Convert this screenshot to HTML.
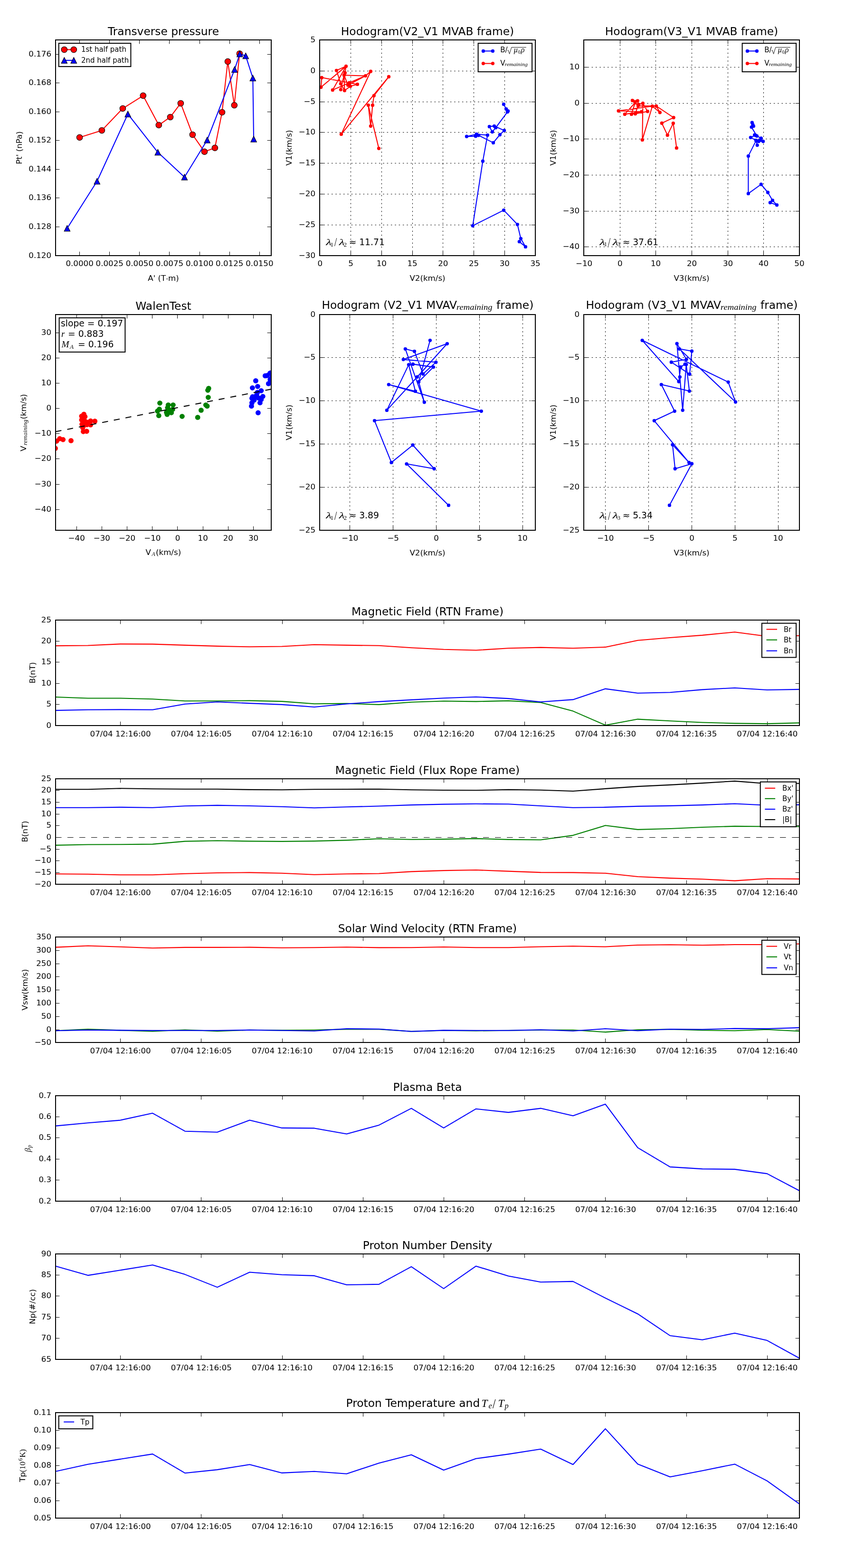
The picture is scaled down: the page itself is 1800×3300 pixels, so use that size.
<!DOCTYPE html>
<html><head><meta charset="utf-8"><title>Flux rope analysis</title><style>html,body{margin:0;padding:0;background:#fff;overflow:hidden;width:1800px;height:3300px;}svg{display:block;}</style></head><body>
<svg width="1800" height="3300" viewBox="0 0 1800 3300"><defs><clipPath id="a1"><rect x="117" y="84" width="454" height="454"/></clipPath><clipPath id="a2"><rect x="673" y="84" width="454" height="454"/></clipPath><clipPath id="a3"><rect x="1229" y="84" width="454" height="454"/></clipPath><clipPath id="b1"><rect x="117" y="662" width="454" height="454"/></clipPath><clipPath id="b2"><rect x="673" y="662" width="454" height="454"/></clipPath><clipPath id="b3"><rect x="1229" y="662" width="454" height="454"/></clipPath><clipPath id="t0"><rect x="117" y="1305" width="1566" height="222"/></clipPath><clipPath id="t1"><rect x="117" y="1639" width="1566" height="222"/></clipPath><clipPath id="t2"><rect x="117" y="1972" width="1566" height="222"/></clipPath><clipPath id="t3"><rect x="117" y="2306" width="1566" height="222"/></clipPath><clipPath id="t4"><rect x="117" y="2639" width="1566" height="222"/></clipPath><clipPath id="t5"><rect x="117" y="2973" width="1566" height="222"/></clipPath></defs><rect width="1800" height="3300" fill="#fff"/><line x1="167.5" y1="538" x2="167.5" y2="529.67" stroke="#000" stroke-width="1.04"/>
<line x1="167.5" y1="84" x2="167.5" y2="92.33" stroke="#000" stroke-width="1.04"/>
<text x="167.6" y="559.8" font-size="16.67" font-family="'DejaVu Sans', 'Liberation Sans', sans-serif" text-anchor="middle">0.0000</text>
<line x1="230.5" y1="538" x2="230.5" y2="529.67" stroke="#000" stroke-width="1.04"/>
<line x1="230.5" y1="84" x2="230.5" y2="92.33" stroke="#000" stroke-width="1.04"/>
<text x="230.73" y="559.8" font-size="16.67" font-family="'DejaVu Sans', 'Liberation Sans', sans-serif" text-anchor="middle">0.0025</text>
<line x1="293.5" y1="538" x2="293.5" y2="529.67" stroke="#000" stroke-width="1.04"/>
<line x1="293.5" y1="84" x2="293.5" y2="92.33" stroke="#000" stroke-width="1.04"/>
<text x="293.86" y="559.8" font-size="16.67" font-family="'DejaVu Sans', 'Liberation Sans', sans-serif" text-anchor="middle">0.0050</text>
<line x1="356.5" y1="538" x2="356.5" y2="529.67" stroke="#000" stroke-width="1.04"/>
<line x1="356.5" y1="84" x2="356.5" y2="92.33" stroke="#000" stroke-width="1.04"/>
<text x="356.99" y="559.8" font-size="16.67" font-family="'DejaVu Sans', 'Liberation Sans', sans-serif" text-anchor="middle">0.0075</text>
<line x1="420.5" y1="538" x2="420.5" y2="529.67" stroke="#000" stroke-width="1.04"/>
<line x1="420.5" y1="84" x2="420.5" y2="92.33" stroke="#000" stroke-width="1.04"/>
<text x="420.12" y="559.8" font-size="16.67" font-family="'DejaVu Sans', 'Liberation Sans', sans-serif" text-anchor="middle">0.0100</text>
<line x1="483.5" y1="538" x2="483.5" y2="529.67" stroke="#000" stroke-width="1.04"/>
<line x1="483.5" y1="84" x2="483.5" y2="92.33" stroke="#000" stroke-width="1.04"/>
<text x="483.25" y="559.8" font-size="16.67" font-family="'DejaVu Sans', 'Liberation Sans', sans-serif" text-anchor="middle">0.0125</text>
<line x1="546.5" y1="538" x2="546.5" y2="529.67" stroke="#000" stroke-width="1.04"/>
<line x1="546.5" y1="84" x2="546.5" y2="92.33" stroke="#000" stroke-width="1.04"/>
<text x="546.38" y="559.8" font-size="16.67" font-family="'DejaVu Sans', 'Liberation Sans', sans-serif" text-anchor="middle">0.0150</text>
<line x1="117" y1="538.5" x2="125.33" y2="538.5" stroke="#000" stroke-width="1.04"/>
<line x1="571" y1="538.5" x2="562.67" y2="538.5" stroke="#000" stroke-width="1.04"/>
<text x="108" y="542.5" font-size="16.67" font-family="'DejaVu Sans', 'Liberation Sans', sans-serif" text-anchor="end">0.120</text>
<line x1="117" y1="477.5" x2="125.33" y2="477.5" stroke="#000" stroke-width="1.04"/>
<line x1="571" y1="477.5" x2="562.67" y2="477.5" stroke="#000" stroke-width="1.04"/>
<text x="108" y="481.97" font-size="16.67" font-family="'DejaVu Sans', 'Liberation Sans', sans-serif" text-anchor="end">0.128</text>
<line x1="117" y1="416.5" x2="125.33" y2="416.5" stroke="#000" stroke-width="1.04"/>
<line x1="571" y1="416.5" x2="562.67" y2="416.5" stroke="#000" stroke-width="1.04"/>
<text x="108" y="421.43" font-size="16.67" font-family="'DejaVu Sans', 'Liberation Sans', sans-serif" text-anchor="end">0.136</text>
<line x1="117" y1="356.5" x2="125.33" y2="356.5" stroke="#000" stroke-width="1.04"/>
<line x1="571" y1="356.5" x2="562.67" y2="356.5" stroke="#000" stroke-width="1.04"/>
<text x="108" y="360.9" font-size="16.67" font-family="'DejaVu Sans', 'Liberation Sans', sans-serif" text-anchor="end">0.144</text>
<line x1="117" y1="295.5" x2="125.33" y2="295.5" stroke="#000" stroke-width="1.04"/>
<line x1="571" y1="295.5" x2="562.67" y2="295.5" stroke="#000" stroke-width="1.04"/>
<text x="108" y="300.37" font-size="16.67" font-family="'DejaVu Sans', 'Liberation Sans', sans-serif" text-anchor="end">0.152</text>
<line x1="117" y1="235.5" x2="125.33" y2="235.5" stroke="#000" stroke-width="1.04"/>
<line x1="571" y1="235.5" x2="562.67" y2="235.5" stroke="#000" stroke-width="1.04"/>
<text x="108" y="239.83" font-size="16.67" font-family="'DejaVu Sans', 'Liberation Sans', sans-serif" text-anchor="end">0.160</text>
<line x1="117" y1="174.5" x2="125.33" y2="174.5" stroke="#000" stroke-width="1.04"/>
<line x1="571" y1="174.5" x2="562.67" y2="174.5" stroke="#000" stroke-width="1.04"/>
<text x="108" y="179.3" font-size="16.67" font-family="'DejaVu Sans', 'Liberation Sans', sans-serif" text-anchor="end">0.168</text>
<line x1="117" y1="114.5" x2="125.33" y2="114.5" stroke="#000" stroke-width="1.04"/>
<line x1="571" y1="114.5" x2="562.67" y2="114.5" stroke="#000" stroke-width="1.04"/>
<text x="108" y="118.77" font-size="16.67" font-family="'DejaVu Sans', 'Liberation Sans', sans-serif" text-anchor="end">0.176</text>
<polyline points="167.6,289.3 214.4,274.4 258.4,228.3 301.3,201.3 334.3,263.3 358.5,246.4 380.4,217.4 405.4,283.4 430.5,319.3 452.4,311.3 467.5,236.2 479.5,129.5 493.3,221.5 504.4,112.9" fill="none" stroke="#ff0000" stroke-width="2.08" stroke-linejoin="round" stroke-linecap="square" clip-path="url(#a1)"/>
<circle cx="167.6" cy="289.3" r="6.25" fill="#ff0000" stroke="#000" stroke-width="1.04"/>
<circle cx="214.4" cy="274.4" r="6.25" fill="#ff0000" stroke="#000" stroke-width="1.04"/>
<circle cx="258.4" cy="228.3" r="6.25" fill="#ff0000" stroke="#000" stroke-width="1.04"/>
<circle cx="301.3" cy="201.3" r="6.25" fill="#ff0000" stroke="#000" stroke-width="1.04"/>
<circle cx="334.3" cy="263.3" r="6.25" fill="#ff0000" stroke="#000" stroke-width="1.04"/>
<circle cx="358.5" cy="246.4" r="6.25" fill="#ff0000" stroke="#000" stroke-width="1.04"/>
<circle cx="380.4" cy="217.4" r="6.25" fill="#ff0000" stroke="#000" stroke-width="1.04"/>
<circle cx="405.4" cy="283.4" r="6.25" fill="#ff0000" stroke="#000" stroke-width="1.04"/>
<circle cx="430.5" cy="319.3" r="6.25" fill="#ff0000" stroke="#000" stroke-width="1.04"/>
<circle cx="452.4" cy="311.3" r="6.25" fill="#ff0000" stroke="#000" stroke-width="1.04"/>
<circle cx="467.5" cy="236.2" r="6.25" fill="#ff0000" stroke="#000" stroke-width="1.04"/>
<circle cx="479.5" cy="129.5" r="6.25" fill="#ff0000" stroke="#000" stroke-width="1.04"/>
<circle cx="493.3" cy="221.5" r="6.25" fill="#ff0000" stroke="#000" stroke-width="1.04"/>
<circle cx="504.4" cy="112.9" r="6.25" fill="#ff0000" stroke="#000" stroke-width="1.04"/>
<polyline points="141.4,480.6 204.3,381.5 269.2,240 332.3,320.6 388.4,372.7 436.2,294.7 493.9,146.2 504.8,113.5 517.3,117.6 532.3,164.3 534.1,292.7" fill="none" stroke="#0000ff" stroke-width="2.08" stroke-linejoin="round" stroke-linecap="square" clip-path="url(#a1)"/>
<polygon points="141.4,474.35 135.15,486.85 147.65,486.85" fill="#0000ff" stroke="#000" stroke-width="1.04" stroke-linejoin="miter"/>
<polygon points="204.3,375.25 198.05,387.75 210.55,387.75" fill="#0000ff" stroke="#000" stroke-width="1.04" stroke-linejoin="miter"/>
<polygon points="269.2,233.75 262.95,246.25 275.45,246.25" fill="#0000ff" stroke="#000" stroke-width="1.04" stroke-linejoin="miter"/>
<polygon points="332.3,314.35 326.05,326.85 338.55,326.85" fill="#0000ff" stroke="#000" stroke-width="1.04" stroke-linejoin="miter"/>
<polygon points="388.4,366.45 382.15,378.95 394.65,378.95" fill="#0000ff" stroke="#000" stroke-width="1.04" stroke-linejoin="miter"/>
<polygon points="436.2,288.45 429.95,300.95 442.45,300.95" fill="#0000ff" stroke="#000" stroke-width="1.04" stroke-linejoin="miter"/>
<polygon points="493.9,139.95 487.65,152.45 500.15,152.45" fill="#0000ff" stroke="#000" stroke-width="1.04" stroke-linejoin="miter"/>
<polygon points="504.8,107.25 498.55,119.75 511.05,119.75" fill="#0000ff" stroke="#000" stroke-width="1.04" stroke-linejoin="miter"/>
<polygon points="517.3,111.35 511.05,123.85 523.55,123.85" fill="#0000ff" stroke="#000" stroke-width="1.04" stroke-linejoin="miter"/>
<polygon points="532.3,158.05 526.05,170.55 538.55,170.55" fill="#0000ff" stroke="#000" stroke-width="1.04" stroke-linejoin="miter"/>
<polygon points="534.1,286.45 527.85,298.95 540.35,298.95" fill="#0000ff" stroke="#000" stroke-width="1.04" stroke-linejoin="miter"/>
<rect x="123.7" y="91.1" width="151.7" height="49" fill="#fff" stroke="#000" stroke-width="2"/>
<line x1="135.3" y1="104.4" x2="155.3" y2="104.4" stroke="#ff0000" stroke-width="2.08"/>
<circle cx="135.3" cy="104.4" r="6.25" fill="#ff0000" stroke="#000" stroke-width="1.04"/>
<circle cx="155.3" cy="104.4" r="6.25" fill="#ff0000" stroke="#000" stroke-width="1.04"/>
<line x1="135.3" y1="127" x2="155.3" y2="127" stroke="#0000ff" stroke-width="2.08"/>
<polygon points="135.3,120.75 129.05,133.25 141.55,133.25" fill="#0000ff" stroke="#000" stroke-width="1.04" stroke-linejoin="miter"/>
<polygon points="155.3,120.75 149.05,133.25 161.55,133.25" fill="#0000ff" stroke="#000" stroke-width="1.04" stroke-linejoin="miter"/>
<text x="170.9" y="108.7" font-size="15" font-family="'DejaVu Sans', 'Liberation Sans', sans-serif" text-anchor="start">1st half path</text>
<text x="170.9" y="131.9" font-size="15" font-family="'DejaVu Sans', 'Liberation Sans', sans-serif" text-anchor="start">2nd half path</text>
<rect x="117" y="84" width="454" height="454" fill="none" stroke="#000" stroke-width="2"/>
<text x="344" y="73.7" font-size="23.33" font-family="'DejaVu Sans', 'Liberation Sans', sans-serif" text-anchor="middle">Transverse pressure</text>
<text x="344" y="590.9" font-size="16.67" font-family="'DejaVu Sans', 'Liberation Sans', sans-serif" text-anchor="middle">A' (T<tspan dy="1.8" font-size="15">·</tspan><tspan dy="-1.8">m)</tspan></text>
<text x="45.8" y="311" font-size="16.67" font-family="'DejaVu Sans', 'Liberation Sans', sans-serif" text-anchor="middle" transform="rotate(-90 45.8 311)">Pt' (nPa)</text>
<line x1="673.5" y1="538" x2="673.5" y2="84" stroke="#000" stroke-width="1.04" stroke-dasharray="2.5 5.83"/>
<line x1="673.5" y1="538" x2="673.5" y2="529.67" stroke="#000" stroke-width="1.04"/>
<line x1="673.5" y1="84" x2="673.5" y2="92.33" stroke="#000" stroke-width="1.04"/>
<text x="673.86" y="559.8" font-size="16.67" font-family="'DejaVu Sans', 'Liberation Sans', sans-serif" text-anchor="middle">0</text>
<line x1="738.5" y1="538" x2="738.5" y2="84" stroke="#000" stroke-width="1.04" stroke-dasharray="2.5 5.83"/>
<line x1="738.5" y1="538" x2="738.5" y2="529.67" stroke="#000" stroke-width="1.04"/>
<line x1="738.5" y1="84" x2="738.5" y2="92.33" stroke="#000" stroke-width="1.04"/>
<text x="738.6" y="559.8" font-size="16.67" font-family="'DejaVu Sans', 'Liberation Sans', sans-serif" text-anchor="middle">5</text>
<line x1="803.5" y1="538" x2="803.5" y2="84" stroke="#000" stroke-width="1.04" stroke-dasharray="2.5 5.83"/>
<line x1="803.5" y1="538" x2="803.5" y2="529.67" stroke="#000" stroke-width="1.04"/>
<line x1="803.5" y1="84" x2="803.5" y2="92.33" stroke="#000" stroke-width="1.04"/>
<text x="803.34" y="559.8" font-size="16.67" font-family="'DejaVu Sans', 'Liberation Sans', sans-serif" text-anchor="middle">10</text>
<line x1="868.5" y1="538" x2="868.5" y2="84" stroke="#000" stroke-width="1.04" stroke-dasharray="2.5 5.83"/>
<line x1="868.5" y1="538" x2="868.5" y2="529.67" stroke="#000" stroke-width="1.04"/>
<line x1="868.5" y1="84" x2="868.5" y2="92.33" stroke="#000" stroke-width="1.04"/>
<text x="868.08" y="559.8" font-size="16.67" font-family="'DejaVu Sans', 'Liberation Sans', sans-serif" text-anchor="middle">15</text>
<line x1="932.5" y1="538" x2="932.5" y2="84" stroke="#000" stroke-width="1.04" stroke-dasharray="2.5 5.83"/>
<line x1="932.5" y1="538" x2="932.5" y2="529.67" stroke="#000" stroke-width="1.04"/>
<line x1="932.5" y1="84" x2="932.5" y2="92.33" stroke="#000" stroke-width="1.04"/>
<text x="932.82" y="559.8" font-size="16.67" font-family="'DejaVu Sans', 'Liberation Sans', sans-serif" text-anchor="middle">20</text>
<line x1="997.5" y1="538" x2="997.5" y2="84" stroke="#000" stroke-width="1.04" stroke-dasharray="2.5 5.83"/>
<line x1="997.5" y1="538" x2="997.5" y2="529.67" stroke="#000" stroke-width="1.04"/>
<line x1="997.5" y1="84" x2="997.5" y2="92.33" stroke="#000" stroke-width="1.04"/>
<text x="997.56" y="559.8" font-size="16.67" font-family="'DejaVu Sans', 'Liberation Sans', sans-serif" text-anchor="middle">25</text>
<line x1="1062.5" y1="538" x2="1062.5" y2="84" stroke="#000" stroke-width="1.04" stroke-dasharray="2.5 5.83"/>
<line x1="1062.5" y1="538" x2="1062.5" y2="529.67" stroke="#000" stroke-width="1.04"/>
<line x1="1062.5" y1="84" x2="1062.5" y2="92.33" stroke="#000" stroke-width="1.04"/>
<text x="1062.3" y="559.8" font-size="16.67" font-family="'DejaVu Sans', 'Liberation Sans', sans-serif" text-anchor="middle">30</text>
<line x1="1127.5" y1="538" x2="1127.5" y2="84" stroke="#000" stroke-width="1.04" stroke-dasharray="2.5 5.83"/>
<line x1="1127.5" y1="538" x2="1127.5" y2="529.67" stroke="#000" stroke-width="1.04"/>
<line x1="1127.5" y1="84" x2="1127.5" y2="92.33" stroke="#000" stroke-width="1.04"/>
<text x="1127.04" y="559.8" font-size="16.67" font-family="'DejaVu Sans', 'Liberation Sans', sans-serif" text-anchor="middle">35</text>
<line x1="673" y1="84.5" x2="1127" y2="84.5" stroke="#000" stroke-width="1.04" stroke-dasharray="2.5 5.83"/>
<line x1="673" y1="84.5" x2="681.33" y2="84.5" stroke="#000" stroke-width="1.04"/>
<line x1="1127" y1="84.5" x2="1118.67" y2="84.5" stroke="#000" stroke-width="1.04"/>
<text x="664" y="89" font-size="16.67" font-family="'DejaVu Sans', 'Liberation Sans', sans-serif" text-anchor="end">5</text>
<line x1="673" y1="149.5" x2="1127" y2="149.5" stroke="#000" stroke-width="1.04" stroke-dasharray="2.5 5.83"/>
<line x1="673" y1="149.5" x2="681.33" y2="149.5" stroke="#000" stroke-width="1.04"/>
<line x1="1127" y1="149.5" x2="1118.67" y2="149.5" stroke="#000" stroke-width="1.04"/>
<text x="664" y="153.8" font-size="16.67" font-family="'DejaVu Sans', 'Liberation Sans', sans-serif" text-anchor="end">0</text>
<line x1="673" y1="214.5" x2="1127" y2="214.5" stroke="#000" stroke-width="1.04" stroke-dasharray="2.5 5.83"/>
<line x1="673" y1="214.5" x2="681.33" y2="214.5" stroke="#000" stroke-width="1.04"/>
<line x1="1127" y1="214.5" x2="1118.67" y2="214.5" stroke="#000" stroke-width="1.04"/>
<text x="664" y="218.6" font-size="16.67" font-family="'DejaVu Sans', 'Liberation Sans', sans-serif" text-anchor="end">−5</text>
<line x1="673" y1="278.5" x2="1127" y2="278.5" stroke="#000" stroke-width="1.04" stroke-dasharray="2.5 5.83"/>
<line x1="673" y1="278.5" x2="681.33" y2="278.5" stroke="#000" stroke-width="1.04"/>
<line x1="1127" y1="278.5" x2="1118.67" y2="278.5" stroke="#000" stroke-width="1.04"/>
<text x="664" y="283.4" font-size="16.67" font-family="'DejaVu Sans', 'Liberation Sans', sans-serif" text-anchor="end">−10</text>
<line x1="673" y1="343.5" x2="1127" y2="343.5" stroke="#000" stroke-width="1.04" stroke-dasharray="2.5 5.83"/>
<line x1="673" y1="343.5" x2="681.33" y2="343.5" stroke="#000" stroke-width="1.04"/>
<line x1="1127" y1="343.5" x2="1118.67" y2="343.5" stroke="#000" stroke-width="1.04"/>
<text x="664" y="348.2" font-size="16.67" font-family="'DejaVu Sans', 'Liberation Sans', sans-serif" text-anchor="end">−15</text>
<line x1="673" y1="408.5" x2="1127" y2="408.5" stroke="#000" stroke-width="1.04" stroke-dasharray="2.5 5.83"/>
<line x1="673" y1="408.5" x2="681.33" y2="408.5" stroke="#000" stroke-width="1.04"/>
<line x1="1127" y1="408.5" x2="1118.67" y2="408.5" stroke="#000" stroke-width="1.04"/>
<text x="664" y="413" font-size="16.67" font-family="'DejaVu Sans', 'Liberation Sans', sans-serif" text-anchor="end">−20</text>
<line x1="673" y1="473.5" x2="1127" y2="473.5" stroke="#000" stroke-width="1.04" stroke-dasharray="2.5 5.83"/>
<line x1="673" y1="473.5" x2="681.33" y2="473.5" stroke="#000" stroke-width="1.04"/>
<line x1="1127" y1="473.5" x2="1118.67" y2="473.5" stroke="#000" stroke-width="1.04"/>
<text x="664" y="477.8" font-size="16.67" font-family="'DejaVu Sans', 'Liberation Sans', sans-serif" text-anchor="end">−25</text>
<line x1="673" y1="538.5" x2="1127" y2="538.5" stroke="#000" stroke-width="1.04" stroke-dasharray="2.5 5.83"/>
<line x1="673" y1="538.5" x2="681.33" y2="538.5" stroke="#000" stroke-width="1.04"/>
<line x1="1127" y1="538.5" x2="1118.67" y2="538.5" stroke="#000" stroke-width="1.04"/>
<text x="664" y="542.6" font-size="16.67" font-family="'DejaVu Sans', 'Liberation Sans', sans-serif" text-anchor="end">−30</text>
<path d="M1060.4 219.4L1065.7 229.4M1065.7 229.4L1069.6 233.7M1069.6 233.7L1068.3 235.6M1068.3 235.6L1043.7 268.7M1043.7 268.7L1036.4 277.6M1036.4 277.6L1030.3 266.4M1030.3 266.4L1040.5 265.3M1040.5 265.3L1061.6 274.6M1061.6 274.6L1052.4 283.5M1052.4 283.5L1038.5 300.4M1038.5 300.4L1007.5 284.8M1007.5 284.8L1001.4 286.7M1001.4 286.7L982.4 287.2M982.4 287.2L1003.2 282.4M1003.2 282.4L1026.4 284.4M1026.4 284.4L1016.4 339.2M1016.4 339.2L995.2 475.1M995.2 475.1L1060.5 442.4M1060.5 442.4L1089.3 472.3M1089.3 472.3L1096.4 502.1M1096.4 502.1L1106.4 519.4M1106.4 519.4L1093.3 508.6" fill="none" stroke="#0000ff" stroke-width="2.08" stroke-linecap="round" stroke-linejoin="round" clip-path="url(#a2)"/>
<circle cx="1060.4" cy="219.4" r="3.12" fill="#0000ff" stroke="#0000ff" stroke-width="1.04" clip-path="url(#a2)"/>
<circle cx="1065.7" cy="229.4" r="3.12" fill="#0000ff" stroke="#0000ff" stroke-width="1.04" clip-path="url(#a2)"/>
<circle cx="1069.6" cy="233.7" r="3.12" fill="#0000ff" stroke="#0000ff" stroke-width="1.04" clip-path="url(#a2)"/>
<circle cx="1068.3" cy="235.6" r="3.12" fill="#0000ff" stroke="#0000ff" stroke-width="1.04" clip-path="url(#a2)"/>
<circle cx="1043.7" cy="268.7" r="3.12" fill="#0000ff" stroke="#0000ff" stroke-width="1.04" clip-path="url(#a2)"/>
<circle cx="1036.4" cy="277.6" r="3.12" fill="#0000ff" stroke="#0000ff" stroke-width="1.04" clip-path="url(#a2)"/>
<circle cx="1030.3" cy="266.4" r="3.12" fill="#0000ff" stroke="#0000ff" stroke-width="1.04" clip-path="url(#a2)"/>
<circle cx="1040.5" cy="265.3" r="3.12" fill="#0000ff" stroke="#0000ff" stroke-width="1.04" clip-path="url(#a2)"/>
<circle cx="1061.6" cy="274.6" r="3.12" fill="#0000ff" stroke="#0000ff" stroke-width="1.04" clip-path="url(#a2)"/>
<circle cx="1052.4" cy="283.5" r="3.12" fill="#0000ff" stroke="#0000ff" stroke-width="1.04" clip-path="url(#a2)"/>
<circle cx="1038.5" cy="300.4" r="3.12" fill="#0000ff" stroke="#0000ff" stroke-width="1.04" clip-path="url(#a2)"/>
<circle cx="1007.5" cy="284.8" r="3.12" fill="#0000ff" stroke="#0000ff" stroke-width="1.04" clip-path="url(#a2)"/>
<circle cx="1001.4" cy="286.7" r="3.12" fill="#0000ff" stroke="#0000ff" stroke-width="1.04" clip-path="url(#a2)"/>
<circle cx="982.4" cy="287.2" r="3.12" fill="#0000ff" stroke="#0000ff" stroke-width="1.04" clip-path="url(#a2)"/>
<circle cx="1003.2" cy="282.4" r="3.12" fill="#0000ff" stroke="#0000ff" stroke-width="1.04" clip-path="url(#a2)"/>
<circle cx="1026.4" cy="284.4" r="3.12" fill="#0000ff" stroke="#0000ff" stroke-width="1.04" clip-path="url(#a2)"/>
<circle cx="1016.4" cy="339.2" r="3.12" fill="#0000ff" stroke="#0000ff" stroke-width="1.04" clip-path="url(#a2)"/>
<circle cx="995.2" cy="475.1" r="3.12" fill="#0000ff" stroke="#0000ff" stroke-width="1.04" clip-path="url(#a2)"/>
<circle cx="1060.5" cy="442.4" r="3.12" fill="#0000ff" stroke="#0000ff" stroke-width="1.04" clip-path="url(#a2)"/>
<circle cx="1089.3" cy="472.3" r="3.12" fill="#0000ff" stroke="#0000ff" stroke-width="1.04" clip-path="url(#a2)"/>
<circle cx="1096.4" cy="502.1" r="3.12" fill="#0000ff" stroke="#0000ff" stroke-width="1.04" clip-path="url(#a2)"/>
<circle cx="1106.4" cy="519.4" r="3.12" fill="#0000ff" stroke="#0000ff" stroke-width="1.04" clip-path="url(#a2)"/>
<circle cx="1093.3" cy="508.6" r="3.12" fill="#0000ff" stroke="#0000ff" stroke-width="1.04" clip-path="url(#a2)"/>
<path d="M675.8 183.5L677.4 163.3M675.8 183.5L728.5 139.4M677.4 163.3L735.3 174.2M735.3 174.2L752.4 177.4M708.4 148.3L728.5 139.4M708.4 148.3L717.4 176.3M728.5 139.4L700.3 189.4M728.5 139.4L726.4 153.4M726.4 153.4L724.3 158.2M724.3 158.2L769.5 159.6M724.3 158.2L717.4 188.6M724.3 158.2L725.4 190.5M724.3 158.2L732.6 179.2M700.3 189.4L735.3 174.2M717.4 176.3L725.4 190.5M725.4 190.5L737.6 181.6M737.6 181.6L752.4 177.4M735.3 174.2L769.5 159.6M732.6 179.2L769.5 159.6M769.5 159.6L780.4 150.2M780.4 150.2L718.4 282.4M718.4 282.4L818.5 161.5M818.5 161.5L787.3 201.3M787.3 201.3L784.4 221.4M784.4 221.4L780.4 265.3M775.3 221.3L780.4 265.3M775.3 221.3L797.5 312.3" fill="none" stroke="#ff0000" stroke-width="2.08" stroke-linecap="round" stroke-linejoin="round" clip-path="url(#a2)"/>
<circle cx="675.8" cy="183.5" r="3.12" fill="#ff0000" stroke="#ff0000" stroke-width="1.04" clip-path="url(#a2)"/>
<circle cx="677.4" cy="163.3" r="3.12" fill="#ff0000" stroke="#ff0000" stroke-width="1.04" clip-path="url(#a2)"/>
<circle cx="708.4" cy="148.3" r="3.12" fill="#ff0000" stroke="#ff0000" stroke-width="1.04" clip-path="url(#a2)"/>
<circle cx="728.5" cy="139.4" r="3.12" fill="#ff0000" stroke="#ff0000" stroke-width="1.04" clip-path="url(#a2)"/>
<circle cx="726.4" cy="153.4" r="3.12" fill="#ff0000" stroke="#ff0000" stroke-width="1.04" clip-path="url(#a2)"/>
<circle cx="724.3" cy="158.2" r="3.12" fill="#ff0000" stroke="#ff0000" stroke-width="1.04" clip-path="url(#a2)"/>
<circle cx="717.4" cy="176.3" r="3.12" fill="#ff0000" stroke="#ff0000" stroke-width="1.04" clip-path="url(#a2)"/>
<circle cx="700.3" cy="189.4" r="3.12" fill="#ff0000" stroke="#ff0000" stroke-width="1.04" clip-path="url(#a2)"/>
<circle cx="717.4" cy="188.6" r="3.12" fill="#ff0000" stroke="#ff0000" stroke-width="1.04" clip-path="url(#a2)"/>
<circle cx="725.4" cy="190.5" r="3.12" fill="#ff0000" stroke="#ff0000" stroke-width="1.04" clip-path="url(#a2)"/>
<circle cx="735.3" cy="174.2" r="3.12" fill="#ff0000" stroke="#ff0000" stroke-width="1.04" clip-path="url(#a2)"/>
<circle cx="732.6" cy="179.2" r="3.12" fill="#ff0000" stroke="#ff0000" stroke-width="1.04" clip-path="url(#a2)"/>
<circle cx="737.6" cy="181.6" r="3.12" fill="#ff0000" stroke="#ff0000" stroke-width="1.04" clip-path="url(#a2)"/>
<circle cx="752.4" cy="177.4" r="3.12" fill="#ff0000" stroke="#ff0000" stroke-width="1.04" clip-path="url(#a2)"/>
<circle cx="769.5" cy="159.6" r="3.12" fill="#ff0000" stroke="#ff0000" stroke-width="1.04" clip-path="url(#a2)"/>
<circle cx="780.4" cy="150.2" r="3.12" fill="#ff0000" stroke="#ff0000" stroke-width="1.04" clip-path="url(#a2)"/>
<circle cx="718.4" cy="282.4" r="3.12" fill="#ff0000" stroke="#ff0000" stroke-width="1.04" clip-path="url(#a2)"/>
<circle cx="818.5" cy="161.5" r="3.12" fill="#ff0000" stroke="#ff0000" stroke-width="1.04" clip-path="url(#a2)"/>
<circle cx="787.3" cy="201.3" r="3.12" fill="#ff0000" stroke="#ff0000" stroke-width="1.04" clip-path="url(#a2)"/>
<circle cx="784.4" cy="221.4" r="3.12" fill="#ff0000" stroke="#ff0000" stroke-width="1.04" clip-path="url(#a2)"/>
<circle cx="775.3" cy="221.3" r="3.12" fill="#ff0000" stroke="#ff0000" stroke-width="1.04" clip-path="url(#a2)"/>
<circle cx="780.4" cy="265.3" r="3.12" fill="#ff0000" stroke="#ff0000" stroke-width="1.04" clip-path="url(#a2)"/>
<circle cx="797.5" cy="312.3" r="3.12" fill="#ff0000" stroke="#ff0000" stroke-width="1.04" clip-path="url(#a2)"/>
<rect x="1006.6" y="91.1" width="113.5" height="60" fill="#fff" stroke="#000" stroke-width="2"/>
<line x1="1017.4" y1="107.4" x2="1037.4" y2="107.4" stroke="#0000ff" stroke-width="2.08"/>
<circle cx="1017.4" cy="107.4" r="3.12" fill="#0000ff" stroke="#0000ff" stroke-width="1.04"/>
<circle cx="1037.4" cy="107.4" r="3.12" fill="#0000ff" stroke="#0000ff" stroke-width="1.04"/>
<line x1="1017.4" y1="133.6" x2="1037.4" y2="133.6" stroke="#ff0000" stroke-width="2.08"/>
<circle cx="1017.4" cy="133.6" r="3.12" fill="#ff0000" stroke="#ff0000" stroke-width="1.04"/>
<circle cx="1037.4" cy="133.6" r="3.12" fill="#ff0000" stroke="#ff0000" stroke-width="1.04"/>
<text x="1053.2" y="110.3" font-size="15" font-family="'DejaVu Sans', 'Liberation Sans', sans-serif" text-anchor="start">B/</text>
<path d="M1068.3 106.5 L1069.8 105.5 L1072.6 113.5 L1076.9 99.6 L1107.8 99.6" fill="none" stroke="#000" stroke-width="0.9"/>
<text x="1081.8" y="110.3" font-size="16" font-family="'Liberation Serif', 'DejaVu Serif', serif" text-anchor="start" font-style="italic">μ</text>
<text x="1090.4" y="112.6" font-size="10.5" font-family="'Liberation Serif', 'DejaVu Serif', serif" text-anchor="start">0</text>
<text x="1096.8" y="110.3" font-size="16" font-family="'Liberation Serif', 'DejaVu Serif', serif" text-anchor="start" font-style="italic">ρ</text>
<text x="1053.2" y="137.5" font-size="15" font-family="'DejaVu Sans', 'Liberation Sans', sans-serif" text-anchor="start">V</text>
<text x="1062.8" y="139" font-size="10.5" font-family="'Liberation Serif', 'DejaVu Serif', serif" text-anchor="start" font-style="italic" textLength="48" lengthAdjust="spacingAndGlyphs">remaining</text>
<text x="686.2" y="516.1" font-size="18.75" font-family="'Liberation Serif', 'DejaVu Serif', serif" text-anchor="start" font-style="italic" textLength="11.6" lengthAdjust="spacingAndGlyphs">λ</text>
<text x="695.6" y="518.9" font-size="13.1" font-family="'Liberation Serif', 'DejaVu Serif', serif" text-anchor="start">1</text>
<text x="0" y="0" font-size="18.75" font-family="'Liberation Serif', 'DejaVu Serif', serif" transform="translate(704.1 518.4) scale(1 1.3)">/</text>
<text x="713.7" y="516.1" font-size="18.75" font-family="'Liberation Serif', 'DejaVu Serif', serif" text-anchor="start" font-style="italic" textLength="11.6" lengthAdjust="spacingAndGlyphs">λ</text>
<text x="723.5" y="518.9" font-size="13.1" font-family="'Liberation Serif', 'DejaVu Serif', serif" text-anchor="start">2</text>
<text x="734.7" y="516.1" font-size="18.75" font-family="'DejaVu Sans', 'Liberation Sans', sans-serif" text-anchor="start">≈</text>
<text x="756.2" y="516.1" font-size="18.75" font-family="'DejaVu Sans', 'Liberation Sans', sans-serif" text-anchor="start">11.71</text>
<rect x="673" y="84" width="454" height="454" fill="none" stroke="#000" stroke-width="2"/>
<text x="900" y="73.7" font-size="23.33" font-family="'DejaVu Sans', 'Liberation Sans', sans-serif" text-anchor="middle">Hodogram(V2_V1 MVAB frame)</text>
<text x="900" y="591" font-size="16.67" font-family="'DejaVu Sans', 'Liberation Sans', sans-serif" text-anchor="middle">V2(km/s)</text>
<text x="614" y="311" font-size="16.67" font-family="'DejaVu Sans', 'Liberation Sans', sans-serif" text-anchor="middle" transform="rotate(-90 614 311)">V1(km/s)</text>
<line x1="1229.5" y1="538" x2="1229.5" y2="84" stroke="#000" stroke-width="1.04" stroke-dasharray="2.5 5.83"/>
<line x1="1229.5" y1="538" x2="1229.5" y2="529.67" stroke="#000" stroke-width="1.04"/>
<line x1="1229.5" y1="84" x2="1229.5" y2="92.33" stroke="#000" stroke-width="1.04"/>
<text x="1229.5" y="559.8" font-size="16.67" font-family="'DejaVu Sans', 'Liberation Sans', sans-serif" text-anchor="middle">−10</text>
<line x1="1305.5" y1="538" x2="1305.5" y2="84" stroke="#000" stroke-width="1.04" stroke-dasharray="2.5 5.83"/>
<line x1="1305.5" y1="538" x2="1305.5" y2="529.67" stroke="#000" stroke-width="1.04"/>
<line x1="1305.5" y1="84" x2="1305.5" y2="92.33" stroke="#000" stroke-width="1.04"/>
<text x="1305.4" y="559.8" font-size="16.67" font-family="'DejaVu Sans', 'Liberation Sans', sans-serif" text-anchor="middle">0</text>
<line x1="1380.5" y1="538" x2="1380.5" y2="84" stroke="#000" stroke-width="1.04" stroke-dasharray="2.5 5.83"/>
<line x1="1380.5" y1="538" x2="1380.5" y2="529.67" stroke="#000" stroke-width="1.04"/>
<line x1="1380.5" y1="84" x2="1380.5" y2="92.33" stroke="#000" stroke-width="1.04"/>
<text x="1380.6" y="559.8" font-size="16.67" font-family="'DejaVu Sans', 'Liberation Sans', sans-serif" text-anchor="middle">10</text>
<line x1="1456.5" y1="538" x2="1456.5" y2="84" stroke="#000" stroke-width="1.04" stroke-dasharray="2.5 5.83"/>
<line x1="1456.5" y1="538" x2="1456.5" y2="529.67" stroke="#000" stroke-width="1.04"/>
<line x1="1456.5" y1="84" x2="1456.5" y2="92.33" stroke="#000" stroke-width="1.04"/>
<text x="1456.6" y="559.8" font-size="16.67" font-family="'DejaVu Sans', 'Liberation Sans', sans-serif" text-anchor="middle">20</text>
<line x1="1532.5" y1="538" x2="1532.5" y2="84" stroke="#000" stroke-width="1.04" stroke-dasharray="2.5 5.83"/>
<line x1="1532.5" y1="538" x2="1532.5" y2="529.67" stroke="#000" stroke-width="1.04"/>
<line x1="1532.5" y1="84" x2="1532.5" y2="92.33" stroke="#000" stroke-width="1.04"/>
<text x="1532.5" y="559.8" font-size="16.67" font-family="'DejaVu Sans', 'Liberation Sans', sans-serif" text-anchor="middle">30</text>
<line x1="1607.5" y1="538" x2="1607.5" y2="84" stroke="#000" stroke-width="1.04" stroke-dasharray="2.5 5.83"/>
<line x1="1607.5" y1="538" x2="1607.5" y2="529.67" stroke="#000" stroke-width="1.04"/>
<line x1="1607.5" y1="84" x2="1607.5" y2="92.33" stroke="#000" stroke-width="1.04"/>
<text x="1607.5" y="559.8" font-size="16.67" font-family="'DejaVu Sans', 'Liberation Sans', sans-serif" text-anchor="middle">40</text>
<line x1="1682.5" y1="538" x2="1682.5" y2="84" stroke="#000" stroke-width="1.04" stroke-dasharray="2.5 5.83"/>
<line x1="1682.5" y1="538" x2="1682.5" y2="529.67" stroke="#000" stroke-width="1.04"/>
<line x1="1682.5" y1="84" x2="1682.5" y2="92.33" stroke="#000" stroke-width="1.04"/>
<text x="1682.9" y="559.8" font-size="16.67" font-family="'DejaVu Sans', 'Liberation Sans', sans-serif" text-anchor="middle">50</text>
<line x1="1229" y1="141.5" x2="1683" y2="141.5" stroke="#000" stroke-width="1.04" stroke-dasharray="2.5 5.83"/>
<line x1="1229" y1="141.5" x2="1237.33" y2="141.5" stroke="#000" stroke-width="1.04"/>
<line x1="1683" y1="141.5" x2="1674.67" y2="141.5" stroke="#000" stroke-width="1.04"/>
<text x="1220" y="146.2" font-size="16.67" font-family="'DejaVu Sans', 'Liberation Sans', sans-serif" text-anchor="end">10</text>
<line x1="1229" y1="217.5" x2="1683" y2="217.5" stroke="#000" stroke-width="1.04" stroke-dasharray="2.5 5.83"/>
<line x1="1229" y1="217.5" x2="1237.33" y2="217.5" stroke="#000" stroke-width="1.04"/>
<line x1="1683" y1="217.5" x2="1674.67" y2="217.5" stroke="#000" stroke-width="1.04"/>
<text x="1220" y="221.8" font-size="16.67" font-family="'DejaVu Sans', 'Liberation Sans', sans-serif" text-anchor="end">0</text>
<line x1="1229" y1="292.5" x2="1683" y2="292.5" stroke="#000" stroke-width="1.04" stroke-dasharray="2.5 5.83"/>
<line x1="1229" y1="292.5" x2="1237.33" y2="292.5" stroke="#000" stroke-width="1.04"/>
<line x1="1683" y1="292.5" x2="1674.67" y2="292.5" stroke="#000" stroke-width="1.04"/>
<text x="1220" y="297.4" font-size="16.67" font-family="'DejaVu Sans', 'Liberation Sans', sans-serif" text-anchor="end">−10</text>
<line x1="1229" y1="368.5" x2="1683" y2="368.5" stroke="#000" stroke-width="1.04" stroke-dasharray="2.5 5.83"/>
<line x1="1229" y1="368.5" x2="1237.33" y2="368.5" stroke="#000" stroke-width="1.04"/>
<line x1="1683" y1="368.5" x2="1674.67" y2="368.5" stroke="#000" stroke-width="1.04"/>
<text x="1220" y="373" font-size="16.67" font-family="'DejaVu Sans', 'Liberation Sans', sans-serif" text-anchor="end">−20</text>
<line x1="1229" y1="444.5" x2="1683" y2="444.5" stroke="#000" stroke-width="1.04" stroke-dasharray="2.5 5.83"/>
<line x1="1229" y1="444.5" x2="1237.33" y2="444.5" stroke="#000" stroke-width="1.04"/>
<line x1="1683" y1="444.5" x2="1674.67" y2="444.5" stroke="#000" stroke-width="1.04"/>
<text x="1220" y="448.6" font-size="16.67" font-family="'DejaVu Sans', 'Liberation Sans', sans-serif" text-anchor="end">−30</text>
<line x1="1229" y1="519.5" x2="1683" y2="519.5" stroke="#000" stroke-width="1.04" stroke-dasharray="2.5 5.83"/>
<line x1="1229" y1="519.5" x2="1237.33" y2="519.5" stroke="#000" stroke-width="1.04"/>
<line x1="1683" y1="519.5" x2="1674.67" y2="519.5" stroke="#000" stroke-width="1.04"/>
<text x="1220" y="524.2" font-size="16.67" font-family="'DejaVu Sans', 'Liberation Sans', sans-serif" text-anchor="end">−40</text>
<path d="M1583.3 258L1584.9 262.5M1584.9 262.5L1586.4 265.6M1586.4 265.6L1582.1 267.6M1582.1 267.6L1593.4 286.2M1593.4 286.2L1602.3 290.9M1602.3 290.9L1588.7 283.9M1588.7 283.9L1590.5 284.7M1590.5 284.7L1580.3 289.3M1580.3 289.3L1591.5 295.4M1591.5 295.4L1594.2 305.6M1594.2 305.6L1592.5 296.1M1592.5 296.1L1597.3 297.5M1597.3 297.5L1606.6 297.5M1606.6 297.5L1600 294.7M1600 294.7L1591.8 295.9M1591.8 295.9L1575.4 328.4M1575.4 328.4L1575.4 407.4M1575.4 407.4L1602.3 388M1602.3 388L1616.5 405M1616.5 405L1626.4 421.7M1626.4 421.7L1635.5 431.4M1635.5 431.4L1621.4 426.4" fill="none" stroke="#0000ff" stroke-width="2.08" stroke-linecap="round" stroke-linejoin="round" clip-path="url(#a3)"/>
<circle cx="1583.3" cy="258" r="3.12" fill="#0000ff" stroke="#0000ff" stroke-width="1.04" clip-path="url(#a3)"/>
<circle cx="1584.9" cy="262.5" r="3.12" fill="#0000ff" stroke="#0000ff" stroke-width="1.04" clip-path="url(#a3)"/>
<circle cx="1586.4" cy="265.6" r="3.12" fill="#0000ff" stroke="#0000ff" stroke-width="1.04" clip-path="url(#a3)"/>
<circle cx="1582.1" cy="267.6" r="3.12" fill="#0000ff" stroke="#0000ff" stroke-width="1.04" clip-path="url(#a3)"/>
<circle cx="1593.4" cy="286.2" r="3.12" fill="#0000ff" stroke="#0000ff" stroke-width="1.04" clip-path="url(#a3)"/>
<circle cx="1602.3" cy="290.9" r="3.12" fill="#0000ff" stroke="#0000ff" stroke-width="1.04" clip-path="url(#a3)"/>
<circle cx="1588.7" cy="283.9" r="3.12" fill="#0000ff" stroke="#0000ff" stroke-width="1.04" clip-path="url(#a3)"/>
<circle cx="1590.5" cy="284.7" r="3.12" fill="#0000ff" stroke="#0000ff" stroke-width="1.04" clip-path="url(#a3)"/>
<circle cx="1580.3" cy="289.3" r="3.12" fill="#0000ff" stroke="#0000ff" stroke-width="1.04" clip-path="url(#a3)"/>
<circle cx="1591.5" cy="295.4" r="3.12" fill="#0000ff" stroke="#0000ff" stroke-width="1.04" clip-path="url(#a3)"/>
<circle cx="1594.2" cy="305.6" r="3.12" fill="#0000ff" stroke="#0000ff" stroke-width="1.04" clip-path="url(#a3)"/>
<circle cx="1592.5" cy="296.1" r="3.12" fill="#0000ff" stroke="#0000ff" stroke-width="1.04" clip-path="url(#a3)"/>
<circle cx="1597.3" cy="297.5" r="3.12" fill="#0000ff" stroke="#0000ff" stroke-width="1.04" clip-path="url(#a3)"/>
<circle cx="1606.6" cy="297.5" r="3.12" fill="#0000ff" stroke="#0000ff" stroke-width="1.04" clip-path="url(#a3)"/>
<circle cx="1600" cy="294.7" r="3.12" fill="#0000ff" stroke="#0000ff" stroke-width="1.04" clip-path="url(#a3)"/>
<circle cx="1591.8" cy="295.9" r="3.12" fill="#0000ff" stroke="#0000ff" stroke-width="1.04" clip-path="url(#a3)"/>
<circle cx="1575.4" cy="328.4" r="3.12" fill="#0000ff" stroke="#0000ff" stroke-width="1.04" clip-path="url(#a3)"/>
<circle cx="1575.4" cy="407.4" r="3.12" fill="#0000ff" stroke="#0000ff" stroke-width="1.04" clip-path="url(#a3)"/>
<circle cx="1602.3" cy="388" r="3.12" fill="#0000ff" stroke="#0000ff" stroke-width="1.04" clip-path="url(#a3)"/>
<circle cx="1616.5" cy="405" r="3.12" fill="#0000ff" stroke="#0000ff" stroke-width="1.04" clip-path="url(#a3)"/>
<circle cx="1626.4" cy="421.7" r="3.12" fill="#0000ff" stroke="#0000ff" stroke-width="1.04" clip-path="url(#a3)"/>
<circle cx="1635.5" cy="431.4" r="3.12" fill="#0000ff" stroke="#0000ff" stroke-width="1.04" clip-path="url(#a3)"/>
<circle cx="1621.4" cy="426.4" r="3.12" fill="#0000ff" stroke="#0000ff" stroke-width="1.04" clip-path="url(#a3)"/>
<path d="M1302.1 233.3L1373.3 223.5M1302.1 233.3L1350.5 235.2M1315.3 240.4L1337 216.2M1315.3 240.4L1350.5 235.2M1329.4 240.4L1337 216.2M1329.4 240.4L1350.5 235.2M1337.5 239.5L1344.1 219.9M1331.4 211.4L1337 216.2M1342.3 212.1L1344.1 219.9M1331.4 211.4L1342.3 212.1M1344.1 219.9L1353.4 217.4M1353.4 217.4L1363.3 234.5M1343.4 222.8L1381.5 223.1M1381.5 223.1L1389.3 236.7M1373.3 223.5L1389.3 236.7M1353.4 217.4L1352.3 294.4M1352.3 294.4L1373.3 223.5M1381.5 223.1L1418.1 247.5M1418.1 247.5L1393.3 259.2M1393.3 259.2L1405.2 284.4M1405.2 284.4L1417.3 259.4M1417.3 259.4L1424.4 311.4M1337.5 239.5L1363.3 234.5M1337 216.2L1343.4 222.8" fill="none" stroke="#ff0000" stroke-width="2.08" stroke-linecap="round" stroke-linejoin="round" clip-path="url(#a3)"/>
<circle cx="1302.1" cy="233.3" r="3.12" fill="#ff0000" stroke="#ff0000" stroke-width="1.04" clip-path="url(#a3)"/>
<circle cx="1315.3" cy="240.4" r="3.12" fill="#ff0000" stroke="#ff0000" stroke-width="1.04" clip-path="url(#a3)"/>
<circle cx="1329.4" cy="240.4" r="3.12" fill="#ff0000" stroke="#ff0000" stroke-width="1.04" clip-path="url(#a3)"/>
<circle cx="1337.5" cy="239.5" r="3.12" fill="#ff0000" stroke="#ff0000" stroke-width="1.04" clip-path="url(#a3)"/>
<circle cx="1350.5" cy="235.2" r="3.12" fill="#ff0000" stroke="#ff0000" stroke-width="1.04" clip-path="url(#a3)"/>
<circle cx="1331.4" cy="211.4" r="3.12" fill="#ff0000" stroke="#ff0000" stroke-width="1.04" clip-path="url(#a3)"/>
<circle cx="1342.3" cy="212.1" r="3.12" fill="#ff0000" stroke="#ff0000" stroke-width="1.04" clip-path="url(#a3)"/>
<circle cx="1337" cy="216.2" r="3.12" fill="#ff0000" stroke="#ff0000" stroke-width="1.04" clip-path="url(#a3)"/>
<circle cx="1344.1" cy="219.9" r="3.12" fill="#ff0000" stroke="#ff0000" stroke-width="1.04" clip-path="url(#a3)"/>
<circle cx="1343.4" cy="222.8" r="3.12" fill="#ff0000" stroke="#ff0000" stroke-width="1.04" clip-path="url(#a3)"/>
<circle cx="1353.4" cy="217.4" r="3.12" fill="#ff0000" stroke="#ff0000" stroke-width="1.04" clip-path="url(#a3)"/>
<circle cx="1363.3" cy="234.5" r="3.12" fill="#ff0000" stroke="#ff0000" stroke-width="1.04" clip-path="url(#a3)"/>
<circle cx="1373.3" cy="223.5" r="3.12" fill="#ff0000" stroke="#ff0000" stroke-width="1.04" clip-path="url(#a3)"/>
<circle cx="1381.5" cy="223.1" r="3.12" fill="#ff0000" stroke="#ff0000" stroke-width="1.04" clip-path="url(#a3)"/>
<circle cx="1389.3" cy="236.7" r="3.12" fill="#ff0000" stroke="#ff0000" stroke-width="1.04" clip-path="url(#a3)"/>
<circle cx="1418.1" cy="247.5" r="3.12" fill="#ff0000" stroke="#ff0000" stroke-width="1.04" clip-path="url(#a3)"/>
<circle cx="1393.3" cy="259.2" r="3.12" fill="#ff0000" stroke="#ff0000" stroke-width="1.04" clip-path="url(#a3)"/>
<circle cx="1405.2" cy="284.4" r="3.12" fill="#ff0000" stroke="#ff0000" stroke-width="1.04" clip-path="url(#a3)"/>
<circle cx="1417.3" cy="259.4" r="3.12" fill="#ff0000" stroke="#ff0000" stroke-width="1.04" clip-path="url(#a3)"/>
<circle cx="1424.4" cy="311.4" r="3.12" fill="#ff0000" stroke="#ff0000" stroke-width="1.04" clip-path="url(#a3)"/>
<circle cx="1352.3" cy="294.4" r="3.12" fill="#ff0000" stroke="#ff0000" stroke-width="1.04" clip-path="url(#a3)"/>
<rect x="1562.6" y="91.1" width="113.5" height="60" fill="#fff" stroke="#000" stroke-width="2"/>
<line x1="1573.4" y1="107.4" x2="1593.4" y2="107.4" stroke="#0000ff" stroke-width="2.08"/>
<circle cx="1573.4" cy="107.4" r="3.12" fill="#0000ff" stroke="#0000ff" stroke-width="1.04"/>
<circle cx="1593.4" cy="107.4" r="3.12" fill="#0000ff" stroke="#0000ff" stroke-width="1.04"/>
<line x1="1573.4" y1="133.6" x2="1593.4" y2="133.6" stroke="#ff0000" stroke-width="2.08"/>
<circle cx="1573.4" cy="133.6" r="3.12" fill="#ff0000" stroke="#ff0000" stroke-width="1.04"/>
<circle cx="1593.4" cy="133.6" r="3.12" fill="#ff0000" stroke="#ff0000" stroke-width="1.04"/>
<text x="1609.2" y="110.3" font-size="15" font-family="'DejaVu Sans', 'Liberation Sans', sans-serif" text-anchor="start">B/</text>
<path d="M1624.3 106.5 L1625.8 105.5 L1628.6 113.5 L1632.9 99.6 L1663.8 99.6" fill="none" stroke="#000" stroke-width="0.9"/>
<text x="1637.8" y="110.3" font-size="16" font-family="'Liberation Serif', 'DejaVu Serif', serif" text-anchor="start" font-style="italic">μ</text>
<text x="1646.4" y="112.6" font-size="10.5" font-family="'Liberation Serif', 'DejaVu Serif', serif" text-anchor="start">0</text>
<text x="1652.8" y="110.3" font-size="16" font-family="'Liberation Serif', 'DejaVu Serif', serif" text-anchor="start" font-style="italic">ρ</text>
<text x="1609.2" y="137.5" font-size="15" font-family="'DejaVu Sans', 'Liberation Sans', sans-serif" text-anchor="start">V</text>
<text x="1618.8" y="139" font-size="10.5" font-family="'Liberation Serif', 'DejaVu Serif', serif" text-anchor="start" font-style="italic" textLength="48" lengthAdjust="spacingAndGlyphs">remaining</text>
<text x="1262.2" y="515.6" font-size="18.75" font-family="'Liberation Serif', 'DejaVu Serif', serif" text-anchor="start" font-style="italic" textLength="11.6" lengthAdjust="spacingAndGlyphs">λ</text>
<text x="1271.6" y="518.4" font-size="13.1" font-family="'Liberation Serif', 'DejaVu Serif', serif" text-anchor="start">1</text>
<text x="0" y="0" font-size="18.75" font-family="'Liberation Serif', 'DejaVu Serif', serif" transform="translate(1280.1 517.9) scale(1 1.3)">/</text>
<text x="1289.7" y="515.6" font-size="18.75" font-family="'Liberation Serif', 'DejaVu Serif', serif" text-anchor="start" font-style="italic" textLength="11.6" lengthAdjust="spacingAndGlyphs">λ</text>
<text x="1299.5" y="518.4" font-size="13.1" font-family="'Liberation Serif', 'DejaVu Serif', serif" text-anchor="start">3</text>
<text x="1310.7" y="515.6" font-size="18.75" font-family="'DejaVu Sans', 'Liberation Sans', sans-serif" text-anchor="start">≈</text>
<text x="1332.2" y="515.6" font-size="18.75" font-family="'DejaVu Sans', 'Liberation Sans', sans-serif" text-anchor="start">37.61</text>
<rect x="1229" y="84" width="454" height="454" fill="none" stroke="#000" stroke-width="2"/>
<text x="1456" y="73.7" font-size="23.33" font-family="'DejaVu Sans', 'Liberation Sans', sans-serif" text-anchor="middle">Hodogram(V3_V1 MVAB frame)</text>
<text x="1456" y="591" font-size="16.67" font-family="'DejaVu Sans', 'Liberation Sans', sans-serif" text-anchor="middle">V3(km/s)</text>
<text x="1170" y="311" font-size="16.67" font-family="'DejaVu Sans', 'Liberation Sans', sans-serif" text-anchor="middle" transform="rotate(-90 1170 311)">V1(km/s)</text>
<line x1="161.5" y1="1116" x2="161.5" y2="1107.67" stroke="#000" stroke-width="1.04"/>
<line x1="161.5" y1="662" x2="161.5" y2="670.33" stroke="#000" stroke-width="1.04"/>
<text x="161.2" y="1137.8" font-size="16.67" font-family="'DejaVu Sans', 'Liberation Sans', sans-serif" text-anchor="middle">−40</text>
<line x1="214.5" y1="1116" x2="214.5" y2="1107.67" stroke="#000" stroke-width="1.04"/>
<line x1="214.5" y1="662" x2="214.5" y2="670.33" stroke="#000" stroke-width="1.04"/>
<text x="214.39" y="1137.8" font-size="16.67" font-family="'DejaVu Sans', 'Liberation Sans', sans-serif" text-anchor="middle">−30</text>
<line x1="267.5" y1="1116" x2="267.5" y2="1107.67" stroke="#000" stroke-width="1.04"/>
<line x1="267.5" y1="662" x2="267.5" y2="670.33" stroke="#000" stroke-width="1.04"/>
<text x="267.58" y="1137.8" font-size="16.67" font-family="'DejaVu Sans', 'Liberation Sans', sans-serif" text-anchor="middle">−20</text>
<line x1="320.5" y1="1116" x2="320.5" y2="1107.67" stroke="#000" stroke-width="1.04"/>
<line x1="320.5" y1="662" x2="320.5" y2="670.33" stroke="#000" stroke-width="1.04"/>
<text x="320.77" y="1137.8" font-size="16.67" font-family="'DejaVu Sans', 'Liberation Sans', sans-serif" text-anchor="middle">−10</text>
<line x1="373.5" y1="1116" x2="373.5" y2="1107.67" stroke="#000" stroke-width="1.04"/>
<line x1="373.5" y1="662" x2="373.5" y2="670.33" stroke="#000" stroke-width="1.04"/>
<text x="373.96" y="1137.8" font-size="16.67" font-family="'DejaVu Sans', 'Liberation Sans', sans-serif" text-anchor="middle">0</text>
<line x1="427.5" y1="1116" x2="427.5" y2="1107.67" stroke="#000" stroke-width="1.04"/>
<line x1="427.5" y1="662" x2="427.5" y2="670.33" stroke="#000" stroke-width="1.04"/>
<text x="427.15" y="1137.8" font-size="16.67" font-family="'DejaVu Sans', 'Liberation Sans', sans-serif" text-anchor="middle">10</text>
<line x1="480.5" y1="1116" x2="480.5" y2="1107.67" stroke="#000" stroke-width="1.04"/>
<line x1="480.5" y1="662" x2="480.5" y2="670.33" stroke="#000" stroke-width="1.04"/>
<text x="480.34" y="1137.8" font-size="16.67" font-family="'DejaVu Sans', 'Liberation Sans', sans-serif" text-anchor="middle">20</text>
<line x1="533.5" y1="1116" x2="533.5" y2="1107.67" stroke="#000" stroke-width="1.04"/>
<line x1="533.5" y1="662" x2="533.5" y2="670.33" stroke="#000" stroke-width="1.04"/>
<text x="533.53" y="1137.8" font-size="16.67" font-family="'DejaVu Sans', 'Liberation Sans', sans-serif" text-anchor="middle">30</text>
<line x1="117" y1="700.5" x2="125.33" y2="700.5" stroke="#000" stroke-width="1.04"/>
<line x1="571" y1="700.5" x2="562.67" y2="700.5" stroke="#000" stroke-width="1.04"/>
<text x="108" y="704.53" font-size="16.67" font-family="'DejaVu Sans', 'Liberation Sans', sans-serif" text-anchor="end">30</text>
<line x1="117" y1="753.5" x2="125.33" y2="753.5" stroke="#000" stroke-width="1.04"/>
<line x1="571" y1="753.5" x2="562.67" y2="753.5" stroke="#000" stroke-width="1.04"/>
<text x="108" y="757.72" font-size="16.67" font-family="'DejaVu Sans', 'Liberation Sans', sans-serif" text-anchor="end">20</text>
<line x1="117" y1="806.5" x2="125.33" y2="806.5" stroke="#000" stroke-width="1.04"/>
<line x1="571" y1="806.5" x2="562.67" y2="806.5" stroke="#000" stroke-width="1.04"/>
<text x="108" y="810.91" font-size="16.67" font-family="'DejaVu Sans', 'Liberation Sans', sans-serif" text-anchor="end">10</text>
<line x1="117" y1="859.5" x2="125.33" y2="859.5" stroke="#000" stroke-width="1.04"/>
<line x1="571" y1="859.5" x2="562.67" y2="859.5" stroke="#000" stroke-width="1.04"/>
<text x="108" y="864.1" font-size="16.67" font-family="'DejaVu Sans', 'Liberation Sans', sans-serif" text-anchor="end">0</text>
<line x1="117" y1="912.5" x2="125.33" y2="912.5" stroke="#000" stroke-width="1.04"/>
<line x1="571" y1="912.5" x2="562.67" y2="912.5" stroke="#000" stroke-width="1.04"/>
<text x="108" y="917.29" font-size="16.67" font-family="'DejaVu Sans', 'Liberation Sans', sans-serif" text-anchor="end">−10</text>
<line x1="117" y1="965.5" x2="125.33" y2="965.5" stroke="#000" stroke-width="1.04"/>
<line x1="571" y1="965.5" x2="562.67" y2="965.5" stroke="#000" stroke-width="1.04"/>
<text x="108" y="970.48" font-size="16.67" font-family="'DejaVu Sans', 'Liberation Sans', sans-serif" text-anchor="end">−20</text>
<line x1="117" y1="1019.5" x2="125.33" y2="1019.5" stroke="#000" stroke-width="1.04"/>
<line x1="571" y1="1019.5" x2="562.67" y2="1019.5" stroke="#000" stroke-width="1.04"/>
<text x="108" y="1023.67" font-size="16.67" font-family="'DejaVu Sans', 'Liberation Sans', sans-serif" text-anchor="end">−30</text>
<line x1="117" y1="1072.5" x2="125.33" y2="1072.5" stroke="#000" stroke-width="1.04"/>
<line x1="571" y1="1072.5" x2="562.67" y2="1072.5" stroke="#000" stroke-width="1.04"/>
<text x="108" y="1076.86" font-size="16.67" font-family="'DejaVu Sans', 'Liberation Sans', sans-serif" text-anchor="end">−40</text>
<circle cx="149.5" cy="927.4" r="5.4" fill="#ff0000" stroke="none" stroke-width="0" clip-path="url(#b1)"/>
<circle cx="132.7" cy="925.2" r="5.4" fill="#ff0000" stroke="none" stroke-width="0" clip-path="url(#b1)"/>
<circle cx="125.7" cy="923.2" r="5.4" fill="#ff0000" stroke="none" stroke-width="0" clip-path="url(#b1)"/>
<circle cx="119.4" cy="928.3" r="5.4" fill="#ff0000" stroke="none" stroke-width="0" clip-path="url(#b1)"/>
<circle cx="116.5" cy="943.6" r="5.4" fill="#ff0000" stroke="none" stroke-width="0" clip-path="url(#b1)"/>
<circle cx="176.6" cy="871.9" r="5.4" fill="#ff0000" stroke="none" stroke-width="0" clip-path="url(#b1)"/>
<circle cx="178.9" cy="877" r="5.4" fill="#ff0000" stroke="none" stroke-width="0" clip-path="url(#b1)"/>
<circle cx="171.9" cy="875.8" r="5.4" fill="#ff0000" stroke="none" stroke-width="0" clip-path="url(#b1)"/>
<circle cx="171.9" cy="883.7" r="5.4" fill="#ff0000" stroke="none" stroke-width="0" clip-path="url(#b1)"/>
<circle cx="177.3" cy="884.5" r="5.4" fill="#ff0000" stroke="none" stroke-width="0" clip-path="url(#b1)"/>
<circle cx="190.7" cy="886" r="5.4" fill="#ff0000" stroke="none" stroke-width="0" clip-path="url(#b1)"/>
<circle cx="199.7" cy="886.4" r="5.4" fill="#ff0000" stroke="none" stroke-width="0" clip-path="url(#b1)"/>
<circle cx="172.6" cy="892.7" r="5.4" fill="#ff0000" stroke="none" stroke-width="0" clip-path="url(#b1)"/>
<circle cx="182.8" cy="893.9" r="5.4" fill="#ff0000" stroke="none" stroke-width="0" clip-path="url(#b1)"/>
<circle cx="190.7" cy="894.2" r="5.4" fill="#ff0000" stroke="none" stroke-width="0" clip-path="url(#b1)"/>
<circle cx="174.2" cy="900.1" r="5.4" fill="#ff0000" stroke="none" stroke-width="0" clip-path="url(#b1)"/>
<circle cx="175.4" cy="908.3" r="5.4" fill="#ff0000" stroke="none" stroke-width="0" clip-path="url(#b1)"/>
<circle cx="182.4" cy="907.6" r="5.4" fill="#ff0000" stroke="none" stroke-width="0" clip-path="url(#b1)"/>
<circle cx="180.5" cy="887.6" r="5.4" fill="#ff0000" stroke="none" stroke-width="0" clip-path="url(#b1)"/>
<circle cx="176" cy="889" r="5.4" fill="#ff0000" stroke="none" stroke-width="0" clip-path="url(#b1)"/>
<circle cx="186" cy="889" r="5.4" fill="#ff0000" stroke="none" stroke-width="0" clip-path="url(#b1)"/>
<circle cx="176" cy="896" r="5.4" fill="#ff0000" stroke="none" stroke-width="0" clip-path="url(#b1)"/>
<circle cx="336.5" cy="848.3" r="5.4" fill="#008000" stroke="none" stroke-width="0" clip-path="url(#b1)"/>
<circle cx="335.5" cy="861.2" r="5.4" fill="#008000" stroke="none" stroke-width="0" clip-path="url(#b1)"/>
<circle cx="331.6" cy="865.2" r="5.4" fill="#008000" stroke="none" stroke-width="0" clip-path="url(#b1)"/>
<circle cx="334.3" cy="874.7" r="5.4" fill="#008000" stroke="none" stroke-width="0" clip-path="url(#b1)"/>
<circle cx="354.2" cy="852.3" r="5.4" fill="#008000" stroke="none" stroke-width="0" clip-path="url(#b1)"/>
<circle cx="364.4" cy="852.3" r="5.4" fill="#008000" stroke="none" stroke-width="0" clip-path="url(#b1)"/>
<circle cx="352.8" cy="858.3" r="5.4" fill="#008000" stroke="none" stroke-width="0" clip-path="url(#b1)"/>
<circle cx="363.5" cy="861.5" r="5.4" fill="#008000" stroke="none" stroke-width="0" clip-path="url(#b1)"/>
<circle cx="350.5" cy="868" r="5.4" fill="#008000" stroke="none" stroke-width="0" clip-path="url(#b1)"/>
<circle cx="351.9" cy="872.2" r="5.4" fill="#008000" stroke="none" stroke-width="0" clip-path="url(#b1)"/>
<circle cx="360.7" cy="868.5" r="5.4" fill="#008000" stroke="none" stroke-width="0" clip-path="url(#b1)"/>
<circle cx="357" cy="862.9" r="5.4" fill="#008000" stroke="none" stroke-width="0" clip-path="url(#b1)"/>
<circle cx="383.4" cy="876.3" r="5.4" fill="#008000" stroke="none" stroke-width="0" clip-path="url(#b1)"/>
<circle cx="416.2" cy="878.4" r="5.4" fill="#008000" stroke="none" stroke-width="0" clip-path="url(#b1)"/>
<circle cx="423.4" cy="863.4" r="5.4" fill="#008000" stroke="none" stroke-width="0" clip-path="url(#b1)"/>
<circle cx="433.3" cy="852.3" r="5.4" fill="#008000" stroke="none" stroke-width="0" clip-path="url(#b1)"/>
<circle cx="436.1" cy="854.6" r="5.4" fill="#008000" stroke="none" stroke-width="0" clip-path="url(#b1)"/>
<circle cx="438.4" cy="836.3" r="5.4" fill="#008000" stroke="none" stroke-width="0" clip-path="url(#b1)"/>
<circle cx="437.5" cy="821.3" r="5.4" fill="#008000" stroke="none" stroke-width="0" clip-path="url(#b1)"/>
<circle cx="439.3" cy="817.4" r="5.4" fill="#008000" stroke="none" stroke-width="0" clip-path="url(#b1)"/>
<circle cx="538.4" cy="801.4" r="5.4" fill="#0000ff" stroke="none" stroke-width="0" clip-path="url(#b1)"/>
<circle cx="542.4" cy="813.3" r="5.4" fill="#0000ff" stroke="none" stroke-width="0" clip-path="url(#b1)"/>
<circle cx="531.4" cy="816.3" r="5.4" fill="#0000ff" stroke="none" stroke-width="0" clip-path="url(#b1)"/>
<circle cx="549.9" cy="822.3" r="5.4" fill="#0000ff" stroke="none" stroke-width="0" clip-path="url(#b1)"/>
<circle cx="541.9" cy="825.8" r="5.4" fill="#0000ff" stroke="none" stroke-width="0" clip-path="url(#b1)"/>
<circle cx="531.9" cy="834.8" r="5.4" fill="#0000ff" stroke="none" stroke-width="0" clip-path="url(#b1)"/>
<circle cx="530.4" cy="838.3" r="5.4" fill="#0000ff" stroke="none" stroke-width="0" clip-path="url(#b1)"/>
<circle cx="537.9" cy="836.8" r="5.4" fill="#0000ff" stroke="none" stroke-width="0" clip-path="url(#b1)"/>
<circle cx="540.4" cy="831.3" r="5.4" fill="#0000ff" stroke="none" stroke-width="0" clip-path="url(#b1)"/>
<circle cx="553.3" cy="834.3" r="5.4" fill="#0000ff" stroke="none" stroke-width="0" clip-path="url(#b1)"/>
<circle cx="549.9" cy="840.8" r="5.4" fill="#0000ff" stroke="none" stroke-width="0" clip-path="url(#b1)"/>
<circle cx="547.4" cy="847.7" r="5.4" fill="#0000ff" stroke="none" stroke-width="0" clip-path="url(#b1)"/>
<circle cx="530.4" cy="847.7" r="5.4" fill="#0000ff" stroke="none" stroke-width="0" clip-path="url(#b1)"/>
<circle cx="529.4" cy="854.7" r="5.4" fill="#0000ff" stroke="none" stroke-width="0" clip-path="url(#b1)"/>
<circle cx="543.4" cy="868.7" r="5.4" fill="#0000ff" stroke="none" stroke-width="0" clip-path="url(#b1)"/>
<circle cx="558.3" cy="790.9" r="5.4" fill="#0000ff" stroke="none" stroke-width="0" clip-path="url(#b1)"/>
<circle cx="562.3" cy="790.4" r="5.4" fill="#0000ff" stroke="none" stroke-width="0" clip-path="url(#b1)"/>
<circle cx="569.8" cy="785" r="5.4" fill="#0000ff" stroke="none" stroke-width="0" clip-path="url(#b1)"/>
<circle cx="568.8" cy="798.9" r="5.4" fill="#0000ff" stroke="none" stroke-width="0" clip-path="url(#b1)"/>
<circle cx="565.3" cy="807.4" r="5.4" fill="#0000ff" stroke="none" stroke-width="0" clip-path="url(#b1)"/>
<circle cx="568.3" cy="785.5" r="5.4" fill="#0000ff" stroke="none" stroke-width="0" clip-path="url(#b1)"/>
<circle cx="572" cy="795" r="5.4" fill="#0000ff" stroke="none" stroke-width="0" clip-path="url(#b1)"/>
<circle cx="535" cy="842" r="5.4" fill="#0000ff" stroke="none" stroke-width="0" clip-path="url(#b1)"/>
<circle cx="545" cy="838" r="5.4" fill="#0000ff" stroke="none" stroke-width="0" clip-path="url(#b1)"/>
<line x1="117" y1="908.5" x2="571" y2="819.1" stroke="#000" stroke-width="2.08" stroke-dasharray="12.5 12.5" clip-path="url(#b1)"/>
<rect x="124.6" y="668.9" width="138.8" height="72" fill="#fff" stroke="#000" stroke-width="2"/>
<text x="128" y="686.9" font-size="18.75" font-family="'DejaVu Sans', 'Liberation Sans', sans-serif" text-anchor="start">slope = 0.197</text>
<text x="129" y="709.3" font-size="18.75" font-family="'Liberation Serif', 'DejaVu Serif', serif" text-anchor="start" font-style="italic">r</text>
<text x="143" y="709.3" font-size="18.75" font-family="'DejaVu Sans', 'Liberation Sans', sans-serif" text-anchor="start">= 0.883</text>
<text x="129.5" y="730.5" font-size="18.75" font-family="'Liberation Serif', 'DejaVu Serif', serif" text-anchor="start" font-style="italic" textLength="16" lengthAdjust="spacingAndGlyphs">M</text>
<text x="147" y="733.6" font-size="13.1" font-family="'Liberation Serif', 'DejaVu Serif', serif" text-anchor="start" font-style="italic">A</text>
<text x="164" y="730.5" font-size="18.75" font-family="'DejaVu Sans', 'Liberation Sans', sans-serif" text-anchor="start">= 0.196</text>
<rect x="117" y="662" width="454" height="454" fill="none" stroke="#000" stroke-width="2"/>
<text x="344" y="651.7" font-size="23.33" font-family="'DejaVu Sans', 'Liberation Sans', sans-serif" text-anchor="middle">WalenTest</text>
<text x="306.5" y="1167.8" font-size="16.67" font-family="'DejaVu Sans', 'Liberation Sans', sans-serif" text-anchor="start">V</text>
<text x="319.5" y="1169.6" font-size="11.67" font-family="'Liberation Serif', 'DejaVu Serif', serif" text-anchor="start" font-style="italic">A</text>
<text x="328" y="1167.8" font-size="16.67" font-family="'DejaVu Sans', 'Liberation Sans', sans-serif" text-anchor="start">(km/s)</text>
<g transform="translate(54.9 949.7) rotate(-90)"><text x="0" y="0" font-size="16.67" font-family="'DejaVu Sans', 'Liberation Sans', sans-serif">V</text><text x="12.8" y="1.8" font-size="11.67" font-family="'Liberation Serif', 'DejaVu Serif', serif" font-style="italic" textLength="53.8" lengthAdjust="spacingAndGlyphs">remaining</text><text x="67.4" y="0" font-size="16.67" font-family="'DejaVu Sans', 'Liberation Sans', sans-serif">(km/s)</text></g>
<line x1="736.5" y1="1116" x2="736.5" y2="662" stroke="#000" stroke-width="1.04" stroke-dasharray="2.5 5.83"/>
<line x1="736.5" y1="1116" x2="736.5" y2="1107.67" stroke="#000" stroke-width="1.04"/>
<line x1="736.5" y1="662" x2="736.5" y2="670.33" stroke="#000" stroke-width="1.04"/>
<text x="736.9" y="1137.8" font-size="16.67" font-family="'DejaVu Sans', 'Liberation Sans', sans-serif" text-anchor="middle">−10</text>
<line x1="827.5" y1="1116" x2="827.5" y2="662" stroke="#000" stroke-width="1.04" stroke-dasharray="2.5 5.83"/>
<line x1="827.5" y1="1116" x2="827.5" y2="1107.67" stroke="#000" stroke-width="1.04"/>
<line x1="827.5" y1="662" x2="827.5" y2="670.33" stroke="#000" stroke-width="1.04"/>
<text x="827.7" y="1137.8" font-size="16.67" font-family="'DejaVu Sans', 'Liberation Sans', sans-serif" text-anchor="middle">−5</text>
<line x1="918.5" y1="1116" x2="918.5" y2="662" stroke="#000" stroke-width="1.04" stroke-dasharray="2.5 5.83"/>
<line x1="918.5" y1="1116" x2="918.5" y2="1107.67" stroke="#000" stroke-width="1.04"/>
<line x1="918.5" y1="662" x2="918.5" y2="670.33" stroke="#000" stroke-width="1.04"/>
<text x="918.5" y="1137.8" font-size="16.67" font-family="'DejaVu Sans', 'Liberation Sans', sans-serif" text-anchor="middle">0</text>
<line x1="1009.5" y1="1116" x2="1009.5" y2="662" stroke="#000" stroke-width="1.04" stroke-dasharray="2.5 5.83"/>
<line x1="1009.5" y1="1116" x2="1009.5" y2="1107.67" stroke="#000" stroke-width="1.04"/>
<line x1="1009.5" y1="662" x2="1009.5" y2="670.33" stroke="#000" stroke-width="1.04"/>
<text x="1009.3" y="1137.8" font-size="16.67" font-family="'DejaVu Sans', 'Liberation Sans', sans-serif" text-anchor="middle">5</text>
<line x1="1100.5" y1="1116" x2="1100.5" y2="662" stroke="#000" stroke-width="1.04" stroke-dasharray="2.5 5.83"/>
<line x1="1100.5" y1="1116" x2="1100.5" y2="1107.67" stroke="#000" stroke-width="1.04"/>
<line x1="1100.5" y1="662" x2="1100.5" y2="670.33" stroke="#000" stroke-width="1.04"/>
<text x="1100.1" y="1137.8" font-size="16.67" font-family="'DejaVu Sans', 'Liberation Sans', sans-serif" text-anchor="middle">10</text>
<line x1="673" y1="662.5" x2="1127" y2="662.5" stroke="#000" stroke-width="1.04" stroke-dasharray="2.5 5.83"/>
<line x1="673" y1="662.5" x2="681.33" y2="662.5" stroke="#000" stroke-width="1.04"/>
<line x1="1127" y1="662.5" x2="1118.67" y2="662.5" stroke="#000" stroke-width="1.04"/>
<text x="664" y="666.5" font-size="16.67" font-family="'DejaVu Sans', 'Liberation Sans', sans-serif" text-anchor="end">0</text>
<line x1="673" y1="752.5" x2="1127" y2="752.5" stroke="#000" stroke-width="1.04" stroke-dasharray="2.5 5.83"/>
<line x1="673" y1="752.5" x2="681.33" y2="752.5" stroke="#000" stroke-width="1.04"/>
<line x1="1127" y1="752.5" x2="1118.67" y2="752.5" stroke="#000" stroke-width="1.04"/>
<text x="664" y="757.3" font-size="16.67" font-family="'DejaVu Sans', 'Liberation Sans', sans-serif" text-anchor="end">−5</text>
<line x1="673" y1="843.5" x2="1127" y2="843.5" stroke="#000" stroke-width="1.04" stroke-dasharray="2.5 5.83"/>
<line x1="673" y1="843.5" x2="681.33" y2="843.5" stroke="#000" stroke-width="1.04"/>
<line x1="1127" y1="843.5" x2="1118.67" y2="843.5" stroke="#000" stroke-width="1.04"/>
<text x="664" y="848.1" font-size="16.67" font-family="'DejaVu Sans', 'Liberation Sans', sans-serif" text-anchor="end">−10</text>
<line x1="673" y1="934.5" x2="1127" y2="934.5" stroke="#000" stroke-width="1.04" stroke-dasharray="2.5 5.83"/>
<line x1="673" y1="934.5" x2="681.33" y2="934.5" stroke="#000" stroke-width="1.04"/>
<line x1="1127" y1="934.5" x2="1118.67" y2="934.5" stroke="#000" stroke-width="1.04"/>
<text x="664" y="938.9" font-size="16.67" font-family="'DejaVu Sans', 'Liberation Sans', sans-serif" text-anchor="end">−15</text>
<line x1="673" y1="1025.5" x2="1127" y2="1025.5" stroke="#000" stroke-width="1.04" stroke-dasharray="2.5 5.83"/>
<line x1="673" y1="1025.5" x2="681.33" y2="1025.5" stroke="#000" stroke-width="1.04"/>
<line x1="1127" y1="1025.5" x2="1118.67" y2="1025.5" stroke="#000" stroke-width="1.04"/>
<text x="664" y="1029.7" font-size="16.67" font-family="'DejaVu Sans', 'Liberation Sans', sans-serif" text-anchor="end">−20</text>
<line x1="673" y1="1116.5" x2="1127" y2="1116.5" stroke="#000" stroke-width="1.04" stroke-dasharray="2.5 5.83"/>
<line x1="673" y1="1116.5" x2="681.33" y2="1116.5" stroke="#000" stroke-width="1.04"/>
<line x1="1127" y1="1116.5" x2="1118.67" y2="1116.5" stroke="#000" stroke-width="1.04"/>
<text x="664" y="1120.5" font-size="16.67" font-family="'DejaVu Sans', 'Liberation Sans', sans-serif" text-anchor="end">−25</text>
<path d="M869.4 766.4L912.4 772.6M912.4 772.6L881.5 803.6M881.5 803.6L905.4 716.3M905.4 716.3L881.5 803.6M881.5 803.6L893.3 846.5M893.3 846.5L853.3 734.3M853.3 734.3L872.5 739.4M872.5 739.4L890.7 787.1M890.7 787.1L917.8 762.3M917.8 762.3L849.2 756.6M849.2 756.6L941.4 723.3M941.4 723.3L878.4 793.2M878.4 793.2L814.4 863.4M814.4 863.4L860.4 767.6M860.4 767.6L874.5 823.4M874.5 823.4L818.3 809.3M818.3 809.3L1013.3 865.3M1013.3 865.3L788.5 885.3M788.5 885.3L824 973.4M824 973.4L869.1 936.7M869.1 936.7L914 986.5M914 986.5L856 976.3M856 976.3L944.4 1063.4" fill="none" stroke="#0000ff" stroke-width="2.08" stroke-linecap="round" stroke-linejoin="round" clip-path="url(#b2)"/>
<circle cx="869.4" cy="766.4" r="3.12" fill="#0000ff" stroke="#0000ff" stroke-width="1.04" clip-path="url(#b2)"/>
<circle cx="912.4" cy="772.6" r="3.12" fill="#0000ff" stroke="#0000ff" stroke-width="1.04" clip-path="url(#b2)"/>
<circle cx="881.5" cy="803.6" r="3.12" fill="#0000ff" stroke="#0000ff" stroke-width="1.04" clip-path="url(#b2)"/>
<circle cx="905.4" cy="716.3" r="3.12" fill="#0000ff" stroke="#0000ff" stroke-width="1.04" clip-path="url(#b2)"/>
<circle cx="881.5" cy="803.6" r="3.12" fill="#0000ff" stroke="#0000ff" stroke-width="1.04" clip-path="url(#b2)"/>
<circle cx="893.3" cy="846.5" r="3.12" fill="#0000ff" stroke="#0000ff" stroke-width="1.04" clip-path="url(#b2)"/>
<circle cx="853.3" cy="734.3" r="3.12" fill="#0000ff" stroke="#0000ff" stroke-width="1.04" clip-path="url(#b2)"/>
<circle cx="872.5" cy="739.4" r="3.12" fill="#0000ff" stroke="#0000ff" stroke-width="1.04" clip-path="url(#b2)"/>
<circle cx="890.7" cy="787.1" r="3.12" fill="#0000ff" stroke="#0000ff" stroke-width="1.04" clip-path="url(#b2)"/>
<circle cx="917.8" cy="762.3" r="3.12" fill="#0000ff" stroke="#0000ff" stroke-width="1.04" clip-path="url(#b2)"/>
<circle cx="849.2" cy="756.6" r="3.12" fill="#0000ff" stroke="#0000ff" stroke-width="1.04" clip-path="url(#b2)"/>
<circle cx="941.4" cy="723.3" r="3.12" fill="#0000ff" stroke="#0000ff" stroke-width="1.04" clip-path="url(#b2)"/>
<circle cx="878.4" cy="793.2" r="3.12" fill="#0000ff" stroke="#0000ff" stroke-width="1.04" clip-path="url(#b2)"/>
<circle cx="814.4" cy="863.4" r="3.12" fill="#0000ff" stroke="#0000ff" stroke-width="1.04" clip-path="url(#b2)"/>
<circle cx="860.4" cy="767.6" r="3.12" fill="#0000ff" stroke="#0000ff" stroke-width="1.04" clip-path="url(#b2)"/>
<circle cx="874.5" cy="823.4" r="3.12" fill="#0000ff" stroke="#0000ff" stroke-width="1.04" clip-path="url(#b2)"/>
<circle cx="818.3" cy="809.3" r="3.12" fill="#0000ff" stroke="#0000ff" stroke-width="1.04" clip-path="url(#b2)"/>
<circle cx="1013.3" cy="865.3" r="3.12" fill="#0000ff" stroke="#0000ff" stroke-width="1.04" clip-path="url(#b2)"/>
<circle cx="788.5" cy="885.3" r="3.12" fill="#0000ff" stroke="#0000ff" stroke-width="1.04" clip-path="url(#b2)"/>
<circle cx="824" cy="973.4" r="3.12" fill="#0000ff" stroke="#0000ff" stroke-width="1.04" clip-path="url(#b2)"/>
<circle cx="869.1" cy="936.7" r="3.12" fill="#0000ff" stroke="#0000ff" stroke-width="1.04" clip-path="url(#b2)"/>
<circle cx="914" cy="986.5" r="3.12" fill="#0000ff" stroke="#0000ff" stroke-width="1.04" clip-path="url(#b2)"/>
<circle cx="856" cy="976.3" r="3.12" fill="#0000ff" stroke="#0000ff" stroke-width="1.04" clip-path="url(#b2)"/>
<circle cx="944.4" cy="1063.4" r="3.12" fill="#0000ff" stroke="#0000ff" stroke-width="1.04" clip-path="url(#b2)"/>
<text x="686.2" y="1091.4" font-size="18.75" font-family="'Liberation Serif', 'DejaVu Serif', serif" text-anchor="start" font-style="italic" textLength="11.6" lengthAdjust="spacingAndGlyphs">λ</text>
<text x="695.6" y="1094.2" font-size="13.1" font-family="'Liberation Serif', 'DejaVu Serif', serif" text-anchor="start">1</text>
<text x="0" y="0" font-size="18.75" font-family="'Liberation Serif', 'DejaVu Serif', serif" transform="translate(704.1 1093.7) scale(1 1.3)">/</text>
<text x="713.7" y="1091.4" font-size="18.75" font-family="'Liberation Serif', 'DejaVu Serif', serif" text-anchor="start" font-style="italic" textLength="11.6" lengthAdjust="spacingAndGlyphs">λ</text>
<text x="723.5" y="1094.2" font-size="13.1" font-family="'Liberation Serif', 'DejaVu Serif', serif" text-anchor="start">2</text>
<text x="734.7" y="1091.4" font-size="18.75" font-family="'DejaVu Sans', 'Liberation Sans', sans-serif" text-anchor="start">≈</text>
<text x="756.2" y="1091.4" font-size="18.75" font-family="'DejaVu Sans', 'Liberation Sans', sans-serif" text-anchor="start">3.89</text>
<rect x="673" y="662" width="454" height="454" fill="none" stroke="#000" stroke-width="2"/>
<text x="677.5" y="649.8" font-size="23.33" font-family="'DejaVu Sans', 'Liberation Sans', sans-serif" text-anchor="start">Hodogram (V2_V1 MVAV</text>
<text x="961" y="652.4" font-size="16.33" font-family="'Liberation Serif', 'DejaVu Serif', serif" text-anchor="start" font-style="italic" textLength="75.6" lengthAdjust="spacingAndGlyphs">remaining</text>
<text x="1045" y="649.8" font-size="23.33" font-family="'DejaVu Sans', 'Liberation Sans', sans-serif" text-anchor="start">frame)</text>
<text x="900" y="1169" font-size="16.67" font-family="'DejaVu Sans', 'Liberation Sans', sans-serif" text-anchor="middle">V2(km/s)</text>
<text x="614" y="889" font-size="16.67" font-family="'DejaVu Sans', 'Liberation Sans', sans-serif" text-anchor="middle" transform="rotate(-90 614 889)">V1(km/s)</text>
<line x1="1274.5" y1="1116" x2="1274.5" y2="662" stroke="#000" stroke-width="1.04" stroke-dasharray="2.5 5.83"/>
<line x1="1274.5" y1="1116" x2="1274.5" y2="1107.67" stroke="#000" stroke-width="1.04"/>
<line x1="1274.5" y1="662" x2="1274.5" y2="670.33" stroke="#000" stroke-width="1.04"/>
<text x="1274.9" y="1137.8" font-size="16.67" font-family="'DejaVu Sans', 'Liberation Sans', sans-serif" text-anchor="middle">−10</text>
<line x1="1365.5" y1="1116" x2="1365.5" y2="662" stroke="#000" stroke-width="1.04" stroke-dasharray="2.5 5.83"/>
<line x1="1365.5" y1="1116" x2="1365.5" y2="1107.67" stroke="#000" stroke-width="1.04"/>
<line x1="1365.5" y1="662" x2="1365.5" y2="670.33" stroke="#000" stroke-width="1.04"/>
<text x="1365.7" y="1137.8" font-size="16.67" font-family="'DejaVu Sans', 'Liberation Sans', sans-serif" text-anchor="middle">−5</text>
<line x1="1456.5" y1="1116" x2="1456.5" y2="662" stroke="#000" stroke-width="1.04" stroke-dasharray="2.5 5.83"/>
<line x1="1456.5" y1="1116" x2="1456.5" y2="1107.67" stroke="#000" stroke-width="1.04"/>
<line x1="1456.5" y1="662" x2="1456.5" y2="670.33" stroke="#000" stroke-width="1.04"/>
<text x="1456.5" y="1137.8" font-size="16.67" font-family="'DejaVu Sans', 'Liberation Sans', sans-serif" text-anchor="middle">0</text>
<line x1="1547.5" y1="1116" x2="1547.5" y2="662" stroke="#000" stroke-width="1.04" stroke-dasharray="2.5 5.83"/>
<line x1="1547.5" y1="1116" x2="1547.5" y2="1107.67" stroke="#000" stroke-width="1.04"/>
<line x1="1547.5" y1="662" x2="1547.5" y2="670.33" stroke="#000" stroke-width="1.04"/>
<text x="1547.3" y="1137.8" font-size="16.67" font-family="'DejaVu Sans', 'Liberation Sans', sans-serif" text-anchor="middle">5</text>
<line x1="1638.5" y1="1116" x2="1638.5" y2="662" stroke="#000" stroke-width="1.04" stroke-dasharray="2.5 5.83"/>
<line x1="1638.5" y1="1116" x2="1638.5" y2="1107.67" stroke="#000" stroke-width="1.04"/>
<line x1="1638.5" y1="662" x2="1638.5" y2="670.33" stroke="#000" stroke-width="1.04"/>
<text x="1638.1" y="1137.8" font-size="16.67" font-family="'DejaVu Sans', 'Liberation Sans', sans-serif" text-anchor="middle">10</text>
<line x1="1229" y1="662.5" x2="1683" y2="662.5" stroke="#000" stroke-width="1.04" stroke-dasharray="2.5 5.83"/>
<line x1="1229" y1="662.5" x2="1237.33" y2="662.5" stroke="#000" stroke-width="1.04"/>
<line x1="1683" y1="662.5" x2="1674.67" y2="662.5" stroke="#000" stroke-width="1.04"/>
<text x="1220" y="666.5" font-size="16.67" font-family="'DejaVu Sans', 'Liberation Sans', sans-serif" text-anchor="end">0</text>
<line x1="1229" y1="752.5" x2="1683" y2="752.5" stroke="#000" stroke-width="1.04" stroke-dasharray="2.5 5.83"/>
<line x1="1229" y1="752.5" x2="1237.33" y2="752.5" stroke="#000" stroke-width="1.04"/>
<line x1="1683" y1="752.5" x2="1674.67" y2="752.5" stroke="#000" stroke-width="1.04"/>
<text x="1220" y="757.3" font-size="16.67" font-family="'DejaVu Sans', 'Liberation Sans', sans-serif" text-anchor="end">−5</text>
<line x1="1229" y1="843.5" x2="1683" y2="843.5" stroke="#000" stroke-width="1.04" stroke-dasharray="2.5 5.83"/>
<line x1="1229" y1="843.5" x2="1237.33" y2="843.5" stroke="#000" stroke-width="1.04"/>
<line x1="1683" y1="843.5" x2="1674.67" y2="843.5" stroke="#000" stroke-width="1.04"/>
<text x="1220" y="848.1" font-size="16.67" font-family="'DejaVu Sans', 'Liberation Sans', sans-serif" text-anchor="end">−10</text>
<line x1="1229" y1="934.5" x2="1683" y2="934.5" stroke="#000" stroke-width="1.04" stroke-dasharray="2.5 5.83"/>
<line x1="1229" y1="934.5" x2="1237.33" y2="934.5" stroke="#000" stroke-width="1.04"/>
<line x1="1683" y1="934.5" x2="1674.67" y2="934.5" stroke="#000" stroke-width="1.04"/>
<text x="1220" y="938.9" font-size="16.67" font-family="'DejaVu Sans', 'Liberation Sans', sans-serif" text-anchor="end">−15</text>
<line x1="1229" y1="1025.5" x2="1683" y2="1025.5" stroke="#000" stroke-width="1.04" stroke-dasharray="2.5 5.83"/>
<line x1="1229" y1="1025.5" x2="1237.33" y2="1025.5" stroke="#000" stroke-width="1.04"/>
<line x1="1683" y1="1025.5" x2="1674.67" y2="1025.5" stroke="#000" stroke-width="1.04"/>
<text x="1220" y="1029.7" font-size="16.67" font-family="'DejaVu Sans', 'Liberation Sans', sans-serif" text-anchor="end">−20</text>
<line x1="1229" y1="1116.5" x2="1683" y2="1116.5" stroke="#000" stroke-width="1.04" stroke-dasharray="2.5 5.83"/>
<line x1="1229" y1="1116.5" x2="1237.33" y2="1116.5" stroke="#000" stroke-width="1.04"/>
<line x1="1683" y1="1116.5" x2="1674.67" y2="1116.5" stroke="#000" stroke-width="1.04"/>
<text x="1220" y="1120.5" font-size="16.67" font-family="'DejaVu Sans', 'Liberation Sans', sans-serif" text-anchor="end">−25</text>
<path d="M1442.1 766.4L1432.9 772.3M1432.9 772.3L1429 803.1M1429 803.1L1352.1 716.3M1352.1 716.3L1533.1 804.1M1533.1 804.1L1548.5 846M1548.5 846L1430.3 734.3M1430.3 734.3L1456.5 738.9M1456.5 738.9L1451.9 787.4M1451.9 787.4L1413.3 762.2M1413.3 762.2L1445.1 756.3M1445.1 756.3L1425.1 723.2M1425.1 723.2L1431.3 793.3M1431.3 793.3L1437.2 863.3M1437.2 863.3L1444.7 767.1M1444.7 767.1L1451.3 823.1M1451.3 823.1L1392.3 809.3M1392.3 809.3L1420.2 865.3M1420.2 865.3L1377.3 885.3M1377.3 885.3L1450.6 973.4M1450.6 973.4L1415.9 936M1415.9 936L1421.2 986.5M1421.2 986.5L1456.5 976M1456.5 976L1409.4 1063.4" fill="none" stroke="#0000ff" stroke-width="2.08" stroke-linecap="round" stroke-linejoin="round" clip-path="url(#b3)"/>
<circle cx="1442.1" cy="766.4" r="3.12" fill="#0000ff" stroke="#0000ff" stroke-width="1.04" clip-path="url(#b3)"/>
<circle cx="1432.9" cy="772.3" r="3.12" fill="#0000ff" stroke="#0000ff" stroke-width="1.04" clip-path="url(#b3)"/>
<circle cx="1429" cy="803.1" r="3.12" fill="#0000ff" stroke="#0000ff" stroke-width="1.04" clip-path="url(#b3)"/>
<circle cx="1352.1" cy="716.3" r="3.12" fill="#0000ff" stroke="#0000ff" stroke-width="1.04" clip-path="url(#b3)"/>
<circle cx="1533.1" cy="804.1" r="3.12" fill="#0000ff" stroke="#0000ff" stroke-width="1.04" clip-path="url(#b3)"/>
<circle cx="1548.5" cy="846" r="3.12" fill="#0000ff" stroke="#0000ff" stroke-width="1.04" clip-path="url(#b3)"/>
<circle cx="1430.3" cy="734.3" r="3.12" fill="#0000ff" stroke="#0000ff" stroke-width="1.04" clip-path="url(#b3)"/>
<circle cx="1456.5" cy="738.9" r="3.12" fill="#0000ff" stroke="#0000ff" stroke-width="1.04" clip-path="url(#b3)"/>
<circle cx="1451.9" cy="787.4" r="3.12" fill="#0000ff" stroke="#0000ff" stroke-width="1.04" clip-path="url(#b3)"/>
<circle cx="1413.3" cy="762.2" r="3.12" fill="#0000ff" stroke="#0000ff" stroke-width="1.04" clip-path="url(#b3)"/>
<circle cx="1445.1" cy="756.3" r="3.12" fill="#0000ff" stroke="#0000ff" stroke-width="1.04" clip-path="url(#b3)"/>
<circle cx="1425.1" cy="723.2" r="3.12" fill="#0000ff" stroke="#0000ff" stroke-width="1.04" clip-path="url(#b3)"/>
<circle cx="1431.3" cy="793.3" r="3.12" fill="#0000ff" stroke="#0000ff" stroke-width="1.04" clip-path="url(#b3)"/>
<circle cx="1437.2" cy="863.3" r="3.12" fill="#0000ff" stroke="#0000ff" stroke-width="1.04" clip-path="url(#b3)"/>
<circle cx="1444.7" cy="767.1" r="3.12" fill="#0000ff" stroke="#0000ff" stroke-width="1.04" clip-path="url(#b3)"/>
<circle cx="1451.3" cy="823.1" r="3.12" fill="#0000ff" stroke="#0000ff" stroke-width="1.04" clip-path="url(#b3)"/>
<circle cx="1392.3" cy="809.3" r="3.12" fill="#0000ff" stroke="#0000ff" stroke-width="1.04" clip-path="url(#b3)"/>
<circle cx="1420.2" cy="865.3" r="3.12" fill="#0000ff" stroke="#0000ff" stroke-width="1.04" clip-path="url(#b3)"/>
<circle cx="1377.3" cy="885.3" r="3.12" fill="#0000ff" stroke="#0000ff" stroke-width="1.04" clip-path="url(#b3)"/>
<circle cx="1450.6" cy="973.4" r="3.12" fill="#0000ff" stroke="#0000ff" stroke-width="1.04" clip-path="url(#b3)"/>
<circle cx="1415.9" cy="936" r="3.12" fill="#0000ff" stroke="#0000ff" stroke-width="1.04" clip-path="url(#b3)"/>
<circle cx="1421.2" cy="986.5" r="3.12" fill="#0000ff" stroke="#0000ff" stroke-width="1.04" clip-path="url(#b3)"/>
<circle cx="1456.5" cy="976" r="3.12" fill="#0000ff" stroke="#0000ff" stroke-width="1.04" clip-path="url(#b3)"/>
<circle cx="1409.4" cy="1063.4" r="3.12" fill="#0000ff" stroke="#0000ff" stroke-width="1.04" clip-path="url(#b3)"/>
<text x="1262.2" y="1091.4" font-size="18.75" font-family="'Liberation Serif', 'DejaVu Serif', serif" text-anchor="start" font-style="italic" textLength="11.6" lengthAdjust="spacingAndGlyphs">λ</text>
<text x="1271.6" y="1094.2" font-size="13.1" font-family="'Liberation Serif', 'DejaVu Serif', serif" text-anchor="start">1</text>
<text x="0" y="0" font-size="18.75" font-family="'Liberation Serif', 'DejaVu Serif', serif" transform="translate(1280.1 1093.7) scale(1 1.3)">/</text>
<text x="1289.7" y="1091.4" font-size="18.75" font-family="'Liberation Serif', 'DejaVu Serif', serif" text-anchor="start" font-style="italic" textLength="11.6" lengthAdjust="spacingAndGlyphs">λ</text>
<text x="1299.5" y="1094.2" font-size="13.1" font-family="'Liberation Serif', 'DejaVu Serif', serif" text-anchor="start">3</text>
<text x="1310.7" y="1091.4" font-size="18.75" font-family="'DejaVu Sans', 'Liberation Sans', sans-serif" text-anchor="start">≈</text>
<text x="1332.2" y="1091.4" font-size="18.75" font-family="'DejaVu Sans', 'Liberation Sans', sans-serif" text-anchor="start">5.34</text>
<rect x="1229" y="662" width="454" height="454" fill="none" stroke="#000" stroke-width="2"/>
<text x="1233.5" y="649.8" font-size="23.33" font-family="'DejaVu Sans', 'Liberation Sans', sans-serif" text-anchor="start">Hodogram (V3_V1 MVAV</text>
<text x="1517" y="652.4" font-size="16.33" font-family="'Liberation Serif', 'DejaVu Serif', serif" text-anchor="start" font-style="italic" textLength="75.6" lengthAdjust="spacingAndGlyphs">remaining</text>
<text x="1601" y="649.8" font-size="23.33" font-family="'DejaVu Sans', 'Liberation Sans', sans-serif" text-anchor="start">frame)</text>
<text x="1456" y="1169" font-size="16.67" font-family="'DejaVu Sans', 'Liberation Sans', sans-serif" text-anchor="middle">V3(km/s)</text>
<text x="1170" y="889" font-size="16.67" font-family="'DejaVu Sans', 'Liberation Sans', sans-serif" text-anchor="middle" transform="rotate(-90 1170 889)">V1(km/s)</text>
<line x1="253.5" y1="1527" x2="253.5" y2="1518.67" stroke="#000" stroke-width="1.04"/>
<line x1="253.5" y1="1305" x2="253.5" y2="1313.33" stroke="#000" stroke-width="1.04"/>
<text x="253.67" y="1549.5" font-size="16.67" font-family="'DejaVu Sans', 'Liberation Sans', sans-serif" text-anchor="middle">07/04 12:16:00</text>
<line x1="423.5" y1="1527" x2="423.5" y2="1518.67" stroke="#000" stroke-width="1.04"/>
<line x1="423.5" y1="1305" x2="423.5" y2="1313.33" stroke="#000" stroke-width="1.04"/>
<text x="423.89" y="1549.5" font-size="16.67" font-family="'DejaVu Sans', 'Liberation Sans', sans-serif" text-anchor="middle">07/04 12:16:05</text>
<line x1="594.5" y1="1527" x2="594.5" y2="1518.67" stroke="#000" stroke-width="1.04"/>
<line x1="594.5" y1="1305" x2="594.5" y2="1313.33" stroke="#000" stroke-width="1.04"/>
<text x="594.11" y="1549.5" font-size="16.67" font-family="'DejaVu Sans', 'Liberation Sans', sans-serif" text-anchor="middle">07/04 12:16:10</text>
<line x1="764.5" y1="1527" x2="764.5" y2="1518.67" stroke="#000" stroke-width="1.04"/>
<line x1="764.5" y1="1305" x2="764.5" y2="1313.33" stroke="#000" stroke-width="1.04"/>
<text x="764.33" y="1549.5" font-size="16.67" font-family="'DejaVu Sans', 'Liberation Sans', sans-serif" text-anchor="middle">07/04 12:16:15</text>
<line x1="934.5" y1="1527" x2="934.5" y2="1518.67" stroke="#000" stroke-width="1.04"/>
<line x1="934.5" y1="1305" x2="934.5" y2="1313.33" stroke="#000" stroke-width="1.04"/>
<text x="934.54" y="1549.5" font-size="16.67" font-family="'DejaVu Sans', 'Liberation Sans', sans-serif" text-anchor="middle">07/04 12:16:20</text>
<line x1="1104.5" y1="1527" x2="1104.5" y2="1518.67" stroke="#000" stroke-width="1.04"/>
<line x1="1104.5" y1="1305" x2="1104.5" y2="1313.33" stroke="#000" stroke-width="1.04"/>
<text x="1104.76" y="1549.5" font-size="16.67" font-family="'DejaVu Sans', 'Liberation Sans', sans-serif" text-anchor="middle">07/04 12:16:25</text>
<line x1="1274.5" y1="1527" x2="1274.5" y2="1518.67" stroke="#000" stroke-width="1.04"/>
<line x1="1274.5" y1="1305" x2="1274.5" y2="1313.33" stroke="#000" stroke-width="1.04"/>
<text x="1274.98" y="1549.5" font-size="16.67" font-family="'DejaVu Sans', 'Liberation Sans', sans-serif" text-anchor="middle">07/04 12:16:30</text>
<line x1="1445.5" y1="1527" x2="1445.5" y2="1518.67" stroke="#000" stroke-width="1.04"/>
<line x1="1445.5" y1="1305" x2="1445.5" y2="1313.33" stroke="#000" stroke-width="1.04"/>
<text x="1445.2" y="1549.5" font-size="16.67" font-family="'DejaVu Sans', 'Liberation Sans', sans-serif" text-anchor="middle">07/04 12:16:35</text>
<line x1="1615.5" y1="1527" x2="1615.5" y2="1518.67" stroke="#000" stroke-width="1.04"/>
<line x1="1615.5" y1="1305" x2="1615.5" y2="1313.33" stroke="#000" stroke-width="1.04"/>
<text x="1615.41" y="1549.5" font-size="16.67" font-family="'DejaVu Sans', 'Liberation Sans', sans-serif" text-anchor="middle">07/04 12:16:40</text>
<line x1="117" y1="1527.5" x2="125.33" y2="1527.5" stroke="#000" stroke-width="1.04"/>
<line x1="1683" y1="1527.5" x2="1674.67" y2="1527.5" stroke="#000" stroke-width="1.04"/>
<text x="108" y="1531.5" font-size="16.67" font-family="'DejaVu Sans', 'Liberation Sans', sans-serif" text-anchor="end">0</text>
<line x1="117" y1="1482.5" x2="125.33" y2="1482.5" stroke="#000" stroke-width="1.04"/>
<line x1="1683" y1="1482.5" x2="1674.67" y2="1482.5" stroke="#000" stroke-width="1.04"/>
<text x="108" y="1487.1" font-size="16.67" font-family="'DejaVu Sans', 'Liberation Sans', sans-serif" text-anchor="end">5</text>
<line x1="117" y1="1438.5" x2="125.33" y2="1438.5" stroke="#000" stroke-width="1.04"/>
<line x1="1683" y1="1438.5" x2="1674.67" y2="1438.5" stroke="#000" stroke-width="1.04"/>
<text x="108" y="1442.7" font-size="16.67" font-family="'DejaVu Sans', 'Liberation Sans', sans-serif" text-anchor="end">10</text>
<line x1="117" y1="1393.5" x2="125.33" y2="1393.5" stroke="#000" stroke-width="1.04"/>
<line x1="1683" y1="1393.5" x2="1674.67" y2="1393.5" stroke="#000" stroke-width="1.04"/>
<text x="108" y="1398.3" font-size="16.67" font-family="'DejaVu Sans', 'Liberation Sans', sans-serif" text-anchor="end">15</text>
<line x1="117" y1="1349.5" x2="125.33" y2="1349.5" stroke="#000" stroke-width="1.04"/>
<line x1="1683" y1="1349.5" x2="1674.67" y2="1349.5" stroke="#000" stroke-width="1.04"/>
<text x="108" y="1353.9" font-size="16.67" font-family="'DejaVu Sans', 'Liberation Sans', sans-serif" text-anchor="end">20</text>
<line x1="117" y1="1305.5" x2="125.33" y2="1305.5" stroke="#000" stroke-width="1.04"/>
<line x1="1683" y1="1305.5" x2="1674.67" y2="1305.5" stroke="#000" stroke-width="1.04"/>
<text x="108" y="1309.5" font-size="16.67" font-family="'DejaVu Sans', 'Liberation Sans', sans-serif" text-anchor="end">25</text>
<polyline points="117,1359.1 185.09,1358.5 253.17,1355.4 321.26,1355.6 389.35,1357.9 457.43,1359.9 525.52,1361.3 593.61,1360.5 661.7,1356.8 729.78,1357.9 797.87,1358.8 865.96,1363.3 934.04,1366.7 1002.13,1368.5 1070.22,1364.2 1138.3,1362.6 1206.39,1364.2 1274.48,1361.9 1342.57,1347.7 1410.65,1342 1478.74,1336.9 1546.83,1330.2 1614.91,1339.2 1683,1337.7" fill="none" stroke="#ff0000" stroke-width="2.08" stroke-linejoin="round" stroke-linecap="square" clip-path="url(#t0)"/>
<polyline points="117,1467 185.09,1469.5 253.17,1469.5 321.26,1471.2 389.35,1475.2 457.43,1475.2 525.52,1474.6 593.61,1476.1 661.7,1481.2 729.78,1480.6 797.87,1482.9 865.96,1477.8 934.04,1475.5 1002.13,1476.4 1070.22,1474.9 1138.3,1478.5 1206.39,1496.6 1274.48,1526.2 1342.57,1513.6 1410.65,1517.3 1478.74,1520.5 1546.83,1522.4 1614.91,1523.1 1683,1521.4" fill="none" stroke="#008000" stroke-width="2.08" stroke-linejoin="round" stroke-linecap="square" clip-path="url(#t0)"/>
<polyline points="117,1495.1 185.09,1493.7 253.17,1493.4 321.26,1493.7 389.35,1481.8 457.43,1477.2 525.52,1480.1 593.61,1482.9 661.7,1488 729.78,1481.5 797.87,1476.6 865.96,1472.9 934.04,1469.2 1002.13,1466.7 1070.22,1470.1 1138.3,1477.2 1206.39,1472.4 1274.48,1449.6 1342.57,1458.7 1410.65,1457.3 1478.74,1451.4 1546.83,1447.7 1614.91,1452 1683,1450.9" fill="none" stroke="#0000ff" stroke-width="2.08" stroke-linejoin="round" stroke-linecap="square" clip-path="url(#t0)"/>
<rect x="1603.9" y="1311.7" width="72.2" height="71.9" fill="#fff" stroke="#000" stroke-width="2"/>
<line x1="1613.5" y1="1324.5" x2="1636" y2="1324.5" stroke="#ff0000" stroke-width="2.08"/>
<text x="1650" y="1329.8" font-size="15" font-family="'DejaVu Sans', 'Liberation Sans', sans-serif" text-anchor="start">Br</text>
<line x1="1613.5" y1="1346.7" x2="1636" y2="1346.7" stroke="#008000" stroke-width="2.08"/>
<text x="1650" y="1352" font-size="15" font-family="'DejaVu Sans', 'Liberation Sans', sans-serif" text-anchor="start">Bt</text>
<line x1="1613.5" y1="1369.7" x2="1636" y2="1369.7" stroke="#0000ff" stroke-width="2.08"/>
<text x="1650" y="1375" font-size="15" font-family="'DejaVu Sans', 'Liberation Sans', sans-serif" text-anchor="start">Bn</text>
<rect x="117" y="1305" width="1566" height="222" fill="none" stroke="#000" stroke-width="2"/>
<text x="900" y="1294.7" font-size="23.33" font-family="'DejaVu Sans', 'Liberation Sans', sans-serif" text-anchor="middle">Magnetic Field (RTN Frame)</text>
<text x="74" y="1416" font-size="16.67" font-family="'DejaVu Sans', 'Liberation Sans', sans-serif" text-anchor="middle" transform="rotate(-90 74 1416)">B(nT)</text>
<line x1="253.5" y1="1861" x2="253.5" y2="1852.67" stroke="#000" stroke-width="1.04"/>
<line x1="253.5" y1="1639" x2="253.5" y2="1647.33" stroke="#000" stroke-width="1.04"/>
<text x="253.67" y="1883.5" font-size="16.67" font-family="'DejaVu Sans', 'Liberation Sans', sans-serif" text-anchor="middle">07/04 12:16:00</text>
<line x1="423.5" y1="1861" x2="423.5" y2="1852.67" stroke="#000" stroke-width="1.04"/>
<line x1="423.5" y1="1639" x2="423.5" y2="1647.33" stroke="#000" stroke-width="1.04"/>
<text x="423.89" y="1883.5" font-size="16.67" font-family="'DejaVu Sans', 'Liberation Sans', sans-serif" text-anchor="middle">07/04 12:16:05</text>
<line x1="594.5" y1="1861" x2="594.5" y2="1852.67" stroke="#000" stroke-width="1.04"/>
<line x1="594.5" y1="1639" x2="594.5" y2="1647.33" stroke="#000" stroke-width="1.04"/>
<text x="594.11" y="1883.5" font-size="16.67" font-family="'DejaVu Sans', 'Liberation Sans', sans-serif" text-anchor="middle">07/04 12:16:10</text>
<line x1="764.5" y1="1861" x2="764.5" y2="1852.67" stroke="#000" stroke-width="1.04"/>
<line x1="764.5" y1="1639" x2="764.5" y2="1647.33" stroke="#000" stroke-width="1.04"/>
<text x="764.33" y="1883.5" font-size="16.67" font-family="'DejaVu Sans', 'Liberation Sans', sans-serif" text-anchor="middle">07/04 12:16:15</text>
<line x1="934.5" y1="1861" x2="934.5" y2="1852.67" stroke="#000" stroke-width="1.04"/>
<line x1="934.5" y1="1639" x2="934.5" y2="1647.33" stroke="#000" stroke-width="1.04"/>
<text x="934.54" y="1883.5" font-size="16.67" font-family="'DejaVu Sans', 'Liberation Sans', sans-serif" text-anchor="middle">07/04 12:16:20</text>
<line x1="1104.5" y1="1861" x2="1104.5" y2="1852.67" stroke="#000" stroke-width="1.04"/>
<line x1="1104.5" y1="1639" x2="1104.5" y2="1647.33" stroke="#000" stroke-width="1.04"/>
<text x="1104.76" y="1883.5" font-size="16.67" font-family="'DejaVu Sans', 'Liberation Sans', sans-serif" text-anchor="middle">07/04 12:16:25</text>
<line x1="1274.5" y1="1861" x2="1274.5" y2="1852.67" stroke="#000" stroke-width="1.04"/>
<line x1="1274.5" y1="1639" x2="1274.5" y2="1647.33" stroke="#000" stroke-width="1.04"/>
<text x="1274.98" y="1883.5" font-size="16.67" font-family="'DejaVu Sans', 'Liberation Sans', sans-serif" text-anchor="middle">07/04 12:16:30</text>
<line x1="1445.5" y1="1861" x2="1445.5" y2="1852.67" stroke="#000" stroke-width="1.04"/>
<line x1="1445.5" y1="1639" x2="1445.5" y2="1647.33" stroke="#000" stroke-width="1.04"/>
<text x="1445.2" y="1883.5" font-size="16.67" font-family="'DejaVu Sans', 'Liberation Sans', sans-serif" text-anchor="middle">07/04 12:16:35</text>
<line x1="1615.5" y1="1861" x2="1615.5" y2="1852.67" stroke="#000" stroke-width="1.04"/>
<line x1="1615.5" y1="1639" x2="1615.5" y2="1647.33" stroke="#000" stroke-width="1.04"/>
<text x="1615.41" y="1883.5" font-size="16.67" font-family="'DejaVu Sans', 'Liberation Sans', sans-serif" text-anchor="middle">07/04 12:16:40</text>
<line x1="117" y1="1861.5" x2="125.33" y2="1861.5" stroke="#000" stroke-width="1.04"/>
<line x1="1683" y1="1861.5" x2="1674.67" y2="1861.5" stroke="#000" stroke-width="1.04"/>
<text x="108" y="1865.5" font-size="16.67" font-family="'DejaVu Sans', 'Liberation Sans', sans-serif" text-anchor="end">−20</text>
<line x1="117" y1="1836.5" x2="125.33" y2="1836.5" stroke="#000" stroke-width="1.04"/>
<line x1="1683" y1="1836.5" x2="1674.67" y2="1836.5" stroke="#000" stroke-width="1.04"/>
<text x="108" y="1840.84" font-size="16.67" font-family="'DejaVu Sans', 'Liberation Sans', sans-serif" text-anchor="end">−15</text>
<line x1="117" y1="1811.5" x2="125.33" y2="1811.5" stroke="#000" stroke-width="1.04"/>
<line x1="1683" y1="1811.5" x2="1674.67" y2="1811.5" stroke="#000" stroke-width="1.04"/>
<text x="108" y="1816.17" font-size="16.67" font-family="'DejaVu Sans', 'Liberation Sans', sans-serif" text-anchor="end">−10</text>
<line x1="117" y1="1787.5" x2="125.33" y2="1787.5" stroke="#000" stroke-width="1.04"/>
<line x1="1683" y1="1787.5" x2="1674.67" y2="1787.5" stroke="#000" stroke-width="1.04"/>
<text x="108" y="1791.51" font-size="16.67" font-family="'DejaVu Sans', 'Liberation Sans', sans-serif" text-anchor="end">−5</text>
<line x1="117" y1="1762.5" x2="125.33" y2="1762.5" stroke="#000" stroke-width="1.04"/>
<line x1="1683" y1="1762.5" x2="1674.67" y2="1762.5" stroke="#000" stroke-width="1.04"/>
<text x="108" y="1766.84" font-size="16.67" font-family="'DejaVu Sans', 'Liberation Sans', sans-serif" text-anchor="end">0</text>
<line x1="117" y1="1737.5" x2="125.33" y2="1737.5" stroke="#000" stroke-width="1.04"/>
<line x1="1683" y1="1737.5" x2="1674.67" y2="1737.5" stroke="#000" stroke-width="1.04"/>
<text x="108" y="1742.17" font-size="16.67" font-family="'DejaVu Sans', 'Liberation Sans', sans-serif" text-anchor="end">5</text>
<line x1="117" y1="1713.5" x2="125.33" y2="1713.5" stroke="#000" stroke-width="1.04"/>
<line x1="1683" y1="1713.5" x2="1674.67" y2="1713.5" stroke="#000" stroke-width="1.04"/>
<text x="108" y="1717.51" font-size="16.67" font-family="'DejaVu Sans', 'Liberation Sans', sans-serif" text-anchor="end">10</text>
<line x1="117" y1="1688.5" x2="125.33" y2="1688.5" stroke="#000" stroke-width="1.04"/>
<line x1="1683" y1="1688.5" x2="1674.67" y2="1688.5" stroke="#000" stroke-width="1.04"/>
<text x="108" y="1692.85" font-size="16.67" font-family="'DejaVu Sans', 'Liberation Sans', sans-serif" text-anchor="end">15</text>
<line x1="117" y1="1663.5" x2="125.33" y2="1663.5" stroke="#000" stroke-width="1.04"/>
<line x1="1683" y1="1663.5" x2="1674.67" y2="1663.5" stroke="#000" stroke-width="1.04"/>
<text x="108" y="1668.18" font-size="16.67" font-family="'DejaVu Sans', 'Liberation Sans', sans-serif" text-anchor="end">20</text>
<line x1="117" y1="1639.5" x2="125.33" y2="1639.5" stroke="#000" stroke-width="1.04"/>
<line x1="1683" y1="1639.5" x2="1674.67" y2="1639.5" stroke="#000" stroke-width="1.04"/>
<text x="108" y="1643.52" font-size="16.67" font-family="'DejaVu Sans', 'Liberation Sans', sans-serif" text-anchor="end">25</text>
<polyline points="117,1839.3 185.09,1839.8 253.17,1841.2 321.26,1841.2 389.35,1838.7 457.43,1837 525.52,1836.4 593.61,1837.8 661.7,1840.7 729.78,1839.3 797.87,1838.5 865.96,1834.4 934.04,1832.1 1002.13,1831 1070.22,1833.6 1138.3,1836.1 1206.39,1836.4 1274.48,1837.8 1342.57,1845 1410.65,1848.1 1478.74,1850.3 1546.83,1853.6 1614.91,1849.3 1683,1849.9" fill="none" stroke="#ff0000" stroke-width="2.08" stroke-linejoin="round" stroke-linecap="square" clip-path="url(#t1)"/>
<polyline points="117,1778.9 185.09,1777.5 253.17,1777.2 321.26,1776.6 389.35,1770.6 457.43,1769.2 525.52,1770.4 593.61,1770.9 661.7,1770.1 729.78,1768.4 797.87,1765.2 865.96,1766.7 934.04,1766.1 1002.13,1764.9 1070.22,1766.9 1138.3,1767.5 1206.39,1758.1 1274.48,1737.3 1342.57,1745.9 1410.65,1744 1478.74,1741 1546.83,1738.9 1614.91,1739.5 1683,1739.5" fill="none" stroke="#008000" stroke-width="2.08" stroke-linejoin="round" stroke-linecap="square" clip-path="url(#t1)"/>
<polyline points="117,1699.8 185.09,1699.8 253.17,1698.9 321.26,1699.8 389.35,1696.3 457.43,1694.9 525.52,1696 593.61,1697.8 661.7,1700.3 729.78,1698.3 797.87,1696.5 865.96,1694.1 934.04,1692.6 1002.13,1691.8 1070.22,1692.3 1138.3,1696 1206.39,1699.8 1274.48,1698.9 1342.57,1696.9 1410.65,1695.9 1478.74,1694.1 1546.83,1691.5 1614.91,1694.7 1683,1693.6" fill="none" stroke="#0000ff" stroke-width="2.08" stroke-linejoin="round" stroke-linecap="square" clip-path="url(#t1)"/>
<polyline points="117,1661.3 185.09,1661.3 253.17,1659.3 321.26,1660.2 389.35,1660.7 457.43,1660.7 525.52,1661.9 593.61,1662.2 661.7,1661.3 729.78,1661 797.87,1660.7 865.96,1662.2 934.04,1663 1002.13,1663.3 1070.22,1661.9 1138.3,1662.7 1206.39,1665 1274.48,1659.9 1342.57,1655.1 1410.65,1651.9 1478.74,1648.1 1546.83,1643.9 1614.91,1649.2 1683,1648.8" fill="none" stroke="#000000" stroke-width="2.08" stroke-linejoin="round" stroke-linecap="square" clip-path="url(#t1)"/>
<line x1="117" y1="1762.5" x2="1683" y2="1762.5" stroke="#000" stroke-width="1.04" stroke-dasharray="12.5 12.5"/>
<rect x="1600.7" y="1645.6" width="75.4" height="94.4" fill="#fff" stroke="#000" stroke-width="2"/>
<line x1="1610.3" y1="1658.8" x2="1632.1" y2="1658.8" stroke="#ff0000" stroke-width="2.08"/>
<text x="1647" y="1664.1" font-size="15" font-family="'DejaVu Sans', 'Liberation Sans', sans-serif" text-anchor="start">Bx'</text>
<line x1="1610.3" y1="1680.8" x2="1632.1" y2="1680.8" stroke="#008000" stroke-width="2.08"/>
<text x="1647" y="1686.1" font-size="15" font-family="'DejaVu Sans', 'Liberation Sans', sans-serif" text-anchor="start">By'</text>
<line x1="1610.3" y1="1703" x2="1632.1" y2="1703" stroke="#0000ff" stroke-width="2.08"/>
<text x="1647" y="1708.3" font-size="15" font-family="'DejaVu Sans', 'Liberation Sans', sans-serif" text-anchor="start">Bz'</text>
<line x1="1610.3" y1="1725" x2="1632.1" y2="1725" stroke="#000000" stroke-width="2.08"/>
<text x="1647" y="1730.3" font-size="15" font-family="'DejaVu Sans', 'Liberation Sans', sans-serif" text-anchor="start">|B|</text>
<rect x="117" y="1639" width="1566" height="222" fill="none" stroke="#000" stroke-width="2"/>
<text x="900" y="1628.7" font-size="23.33" font-family="'DejaVu Sans', 'Liberation Sans', sans-serif" text-anchor="middle">Magnetic Field (Flux Rope Frame)</text>
<text x="58" y="1750" font-size="16.67" font-family="'DejaVu Sans', 'Liberation Sans', sans-serif" text-anchor="middle" transform="rotate(-90 58 1750)">B(nT)</text>
<line x1="253.5" y1="2194" x2="253.5" y2="2185.67" stroke="#000" stroke-width="1.04"/>
<line x1="253.5" y1="1972" x2="253.5" y2="1980.33" stroke="#000" stroke-width="1.04"/>
<text x="253.67" y="2216.5" font-size="16.67" font-family="'DejaVu Sans', 'Liberation Sans', sans-serif" text-anchor="middle">07/04 12:16:00</text>
<line x1="423.5" y1="2194" x2="423.5" y2="2185.67" stroke="#000" stroke-width="1.04"/>
<line x1="423.5" y1="1972" x2="423.5" y2="1980.33" stroke="#000" stroke-width="1.04"/>
<text x="423.89" y="2216.5" font-size="16.67" font-family="'DejaVu Sans', 'Liberation Sans', sans-serif" text-anchor="middle">07/04 12:16:05</text>
<line x1="594.5" y1="2194" x2="594.5" y2="2185.67" stroke="#000" stroke-width="1.04"/>
<line x1="594.5" y1="1972" x2="594.5" y2="1980.33" stroke="#000" stroke-width="1.04"/>
<text x="594.11" y="2216.5" font-size="16.67" font-family="'DejaVu Sans', 'Liberation Sans', sans-serif" text-anchor="middle">07/04 12:16:10</text>
<line x1="764.5" y1="2194" x2="764.5" y2="2185.67" stroke="#000" stroke-width="1.04"/>
<line x1="764.5" y1="1972" x2="764.5" y2="1980.33" stroke="#000" stroke-width="1.04"/>
<text x="764.33" y="2216.5" font-size="16.67" font-family="'DejaVu Sans', 'Liberation Sans', sans-serif" text-anchor="middle">07/04 12:16:15</text>
<line x1="934.5" y1="2194" x2="934.5" y2="2185.67" stroke="#000" stroke-width="1.04"/>
<line x1="934.5" y1="1972" x2="934.5" y2="1980.33" stroke="#000" stroke-width="1.04"/>
<text x="934.54" y="2216.5" font-size="16.67" font-family="'DejaVu Sans', 'Liberation Sans', sans-serif" text-anchor="middle">07/04 12:16:20</text>
<line x1="1104.5" y1="2194" x2="1104.5" y2="2185.67" stroke="#000" stroke-width="1.04"/>
<line x1="1104.5" y1="1972" x2="1104.5" y2="1980.33" stroke="#000" stroke-width="1.04"/>
<text x="1104.76" y="2216.5" font-size="16.67" font-family="'DejaVu Sans', 'Liberation Sans', sans-serif" text-anchor="middle">07/04 12:16:25</text>
<line x1="1274.5" y1="2194" x2="1274.5" y2="2185.67" stroke="#000" stroke-width="1.04"/>
<line x1="1274.5" y1="1972" x2="1274.5" y2="1980.33" stroke="#000" stroke-width="1.04"/>
<text x="1274.98" y="2216.5" font-size="16.67" font-family="'DejaVu Sans', 'Liberation Sans', sans-serif" text-anchor="middle">07/04 12:16:30</text>
<line x1="1445.5" y1="2194" x2="1445.5" y2="2185.67" stroke="#000" stroke-width="1.04"/>
<line x1="1445.5" y1="1972" x2="1445.5" y2="1980.33" stroke="#000" stroke-width="1.04"/>
<text x="1445.2" y="2216.5" font-size="16.67" font-family="'DejaVu Sans', 'Liberation Sans', sans-serif" text-anchor="middle">07/04 12:16:35</text>
<line x1="1615.5" y1="2194" x2="1615.5" y2="2185.67" stroke="#000" stroke-width="1.04"/>
<line x1="1615.5" y1="1972" x2="1615.5" y2="1980.33" stroke="#000" stroke-width="1.04"/>
<text x="1615.41" y="2216.5" font-size="16.67" font-family="'DejaVu Sans', 'Liberation Sans', sans-serif" text-anchor="middle">07/04 12:16:40</text>
<line x1="117" y1="2194.5" x2="125.33" y2="2194.5" stroke="#000" stroke-width="1.04"/>
<line x1="1683" y1="2194.5" x2="1674.67" y2="2194.5" stroke="#000" stroke-width="1.04"/>
<text x="108" y="2198.5" font-size="16.67" font-family="'DejaVu Sans', 'Liberation Sans', sans-serif" text-anchor="end">−50</text>
<line x1="117" y1="2167.5" x2="125.33" y2="2167.5" stroke="#000" stroke-width="1.04"/>
<line x1="1683" y1="2167.5" x2="1674.67" y2="2167.5" stroke="#000" stroke-width="1.04"/>
<text x="108" y="2171.8" font-size="16.67" font-family="'DejaVu Sans', 'Liberation Sans', sans-serif" text-anchor="end">0</text>
<line x1="117" y1="2139.5" x2="125.33" y2="2139.5" stroke="#000" stroke-width="1.04"/>
<line x1="1683" y1="2139.5" x2="1674.67" y2="2139.5" stroke="#000" stroke-width="1.04"/>
<text x="108" y="2143.9" font-size="16.67" font-family="'DejaVu Sans', 'Liberation Sans', sans-serif" text-anchor="end">50</text>
<line x1="117" y1="2111.5" x2="125.33" y2="2111.5" stroke="#000" stroke-width="1.04"/>
<line x1="1683" y1="2111.5" x2="1674.67" y2="2111.5" stroke="#000" stroke-width="1.04"/>
<text x="108" y="2115.7" font-size="16.67" font-family="'DejaVu Sans', 'Liberation Sans', sans-serif" text-anchor="end">100</text>
<line x1="117" y1="2083.5" x2="125.33" y2="2083.5" stroke="#000" stroke-width="1.04"/>
<line x1="1683" y1="2083.5" x2="1674.67" y2="2083.5" stroke="#000" stroke-width="1.04"/>
<text x="108" y="2087.8" font-size="16.67" font-family="'DejaVu Sans', 'Liberation Sans', sans-serif" text-anchor="end">150</text>
<line x1="117" y1="2055.5" x2="125.33" y2="2055.5" stroke="#000" stroke-width="1.04"/>
<line x1="1683" y1="2055.5" x2="1674.67" y2="2055.5" stroke="#000" stroke-width="1.04"/>
<text x="108" y="2059.9" font-size="16.67" font-family="'DejaVu Sans', 'Liberation Sans', sans-serif" text-anchor="end">200</text>
<line x1="117" y1="2028.5" x2="125.33" y2="2028.5" stroke="#000" stroke-width="1.04"/>
<line x1="1683" y1="2028.5" x2="1674.67" y2="2028.5" stroke="#000" stroke-width="1.04"/>
<text x="108" y="2032.8" font-size="16.67" font-family="'DejaVu Sans', 'Liberation Sans', sans-serif" text-anchor="end">250</text>
<line x1="117" y1="2000.5" x2="125.33" y2="2000.5" stroke="#000" stroke-width="1.04"/>
<line x1="1683" y1="2000.5" x2="1674.67" y2="2000.5" stroke="#000" stroke-width="1.04"/>
<text x="108" y="2004.6" font-size="16.67" font-family="'DejaVu Sans', 'Liberation Sans', sans-serif" text-anchor="end">300</text>
<line x1="117" y1="1972.5" x2="125.33" y2="1972.5" stroke="#000" stroke-width="1.04"/>
<line x1="1683" y1="1972.5" x2="1674.67" y2="1972.5" stroke="#000" stroke-width="1.04"/>
<text x="108" y="1976.5" font-size="16.67" font-family="'DejaVu Sans', 'Liberation Sans', sans-serif" text-anchor="end">350</text>
<polyline points="117,1993.6 185.09,1990.5 253.17,1992.7 321.26,1995.3 389.35,1993.9 457.43,1993.9 525.52,1993.6 593.61,1994.7 661.7,1994.2 729.78,1993.3 797.87,1994.4 865.96,1994.2 934.04,1993 1002.13,1994.2 1070.22,1994.2 1138.3,1992.5 1206.39,1991.3 1274.48,1992.5 1342.57,1989 1410.65,1988.3 1478.74,1989.3 1546.83,1988 1614.91,1988 1683,1986.5" fill="none" stroke="#ff0000" stroke-width="2.08" stroke-linejoin="round" stroke-linecap="square" clip-path="url(#t2)"/>
<polyline points="117,2169.2 185.09,2166.1 253.17,2168.4 321.26,2170.4 389.35,2167.5 457.43,2170.1 525.52,2167.8 593.61,2168.4 661.7,2167.8 729.78,2166.1 797.87,2166.1 865.96,2170.7 934.04,2168.7 1002.13,2169.5 1070.22,2168.7 1138.3,2167.8 1206.39,2167.8 1274.48,2172.1 1342.57,2167.3 1410.65,2166.2 1478.74,2168.3 1546.83,2169.3 1614.91,2166.7 1683,2170.3" fill="none" stroke="#008000" stroke-width="2.08" stroke-linejoin="round" stroke-linecap="square" clip-path="url(#t2)"/>
<polyline points="117,2169.2 185.09,2167.8 253.17,2168.4 321.26,2168.7 389.35,2168.7 457.43,2168.7 525.52,2167.8 593.61,2168.7 661.7,2169.8 729.78,2165 797.87,2165.8 865.96,2170.7 934.04,2168.4 1002.13,2168.7 1070.22,2168.7 1138.3,2167.3 1206.39,2169.8 1274.48,2165 1342.57,2169.3 1410.65,2166 1478.74,2166.5 1546.83,2164.6 1614.91,2165 1683,2162.9" fill="none" stroke="#0000ff" stroke-width="2.08" stroke-linejoin="round" stroke-linecap="square" clip-path="url(#t2)"/>
<rect x="1603.9" y="1978.8" width="72.2" height="72" fill="#fff" stroke="#000" stroke-width="2"/>
<line x1="1613.5" y1="1991.6" x2="1636" y2="1991.6" stroke="#ff0000" stroke-width="2.08"/>
<text x="1650" y="1996.9" font-size="15" font-family="'DejaVu Sans', 'Liberation Sans', sans-serif" text-anchor="start">Vr</text>
<line x1="1613.5" y1="2013.8" x2="1636" y2="2013.8" stroke="#008000" stroke-width="2.08"/>
<text x="1650" y="2019.1" font-size="15" font-family="'DejaVu Sans', 'Liberation Sans', sans-serif" text-anchor="start">Vt</text>
<line x1="1613.5" y1="2036.9" x2="1636" y2="2036.9" stroke="#0000ff" stroke-width="2.08"/>
<text x="1650" y="2042.2" font-size="15" font-family="'DejaVu Sans', 'Liberation Sans', sans-serif" text-anchor="start">Vn</text>
<rect x="117" y="1972" width="1566" height="222" fill="none" stroke="#000" stroke-width="2"/>
<text x="900" y="1961.7" font-size="23.33" font-family="'DejaVu Sans', 'Liberation Sans', sans-serif" text-anchor="middle">Solar Wind Velocity (RTN Frame)</text>
<text x="57.9" y="2083" font-size="16.67" font-family="'DejaVu Sans', 'Liberation Sans', sans-serif" text-anchor="middle" transform="rotate(-90 57.9 2083)">Vsw(km/s)</text>
<line x1="253.5" y1="2528" x2="253.5" y2="2519.67" stroke="#000" stroke-width="1.04"/>
<line x1="253.5" y1="2306" x2="253.5" y2="2314.33" stroke="#000" stroke-width="1.04"/>
<text x="253.67" y="2550.5" font-size="16.67" font-family="'DejaVu Sans', 'Liberation Sans', sans-serif" text-anchor="middle">07/04 12:16:00</text>
<line x1="423.5" y1="2528" x2="423.5" y2="2519.67" stroke="#000" stroke-width="1.04"/>
<line x1="423.5" y1="2306" x2="423.5" y2="2314.33" stroke="#000" stroke-width="1.04"/>
<text x="423.89" y="2550.5" font-size="16.67" font-family="'DejaVu Sans', 'Liberation Sans', sans-serif" text-anchor="middle">07/04 12:16:05</text>
<line x1="594.5" y1="2528" x2="594.5" y2="2519.67" stroke="#000" stroke-width="1.04"/>
<line x1="594.5" y1="2306" x2="594.5" y2="2314.33" stroke="#000" stroke-width="1.04"/>
<text x="594.11" y="2550.5" font-size="16.67" font-family="'DejaVu Sans', 'Liberation Sans', sans-serif" text-anchor="middle">07/04 12:16:10</text>
<line x1="764.5" y1="2528" x2="764.5" y2="2519.67" stroke="#000" stroke-width="1.04"/>
<line x1="764.5" y1="2306" x2="764.5" y2="2314.33" stroke="#000" stroke-width="1.04"/>
<text x="764.33" y="2550.5" font-size="16.67" font-family="'DejaVu Sans', 'Liberation Sans', sans-serif" text-anchor="middle">07/04 12:16:15</text>
<line x1="934.5" y1="2528" x2="934.5" y2="2519.67" stroke="#000" stroke-width="1.04"/>
<line x1="934.5" y1="2306" x2="934.5" y2="2314.33" stroke="#000" stroke-width="1.04"/>
<text x="934.54" y="2550.5" font-size="16.67" font-family="'DejaVu Sans', 'Liberation Sans', sans-serif" text-anchor="middle">07/04 12:16:20</text>
<line x1="1104.5" y1="2528" x2="1104.5" y2="2519.67" stroke="#000" stroke-width="1.04"/>
<line x1="1104.5" y1="2306" x2="1104.5" y2="2314.33" stroke="#000" stroke-width="1.04"/>
<text x="1104.76" y="2550.5" font-size="16.67" font-family="'DejaVu Sans', 'Liberation Sans', sans-serif" text-anchor="middle">07/04 12:16:25</text>
<line x1="1274.5" y1="2528" x2="1274.5" y2="2519.67" stroke="#000" stroke-width="1.04"/>
<line x1="1274.5" y1="2306" x2="1274.5" y2="2314.33" stroke="#000" stroke-width="1.04"/>
<text x="1274.98" y="2550.5" font-size="16.67" font-family="'DejaVu Sans', 'Liberation Sans', sans-serif" text-anchor="middle">07/04 12:16:30</text>
<line x1="1445.5" y1="2528" x2="1445.5" y2="2519.67" stroke="#000" stroke-width="1.04"/>
<line x1="1445.5" y1="2306" x2="1445.5" y2="2314.33" stroke="#000" stroke-width="1.04"/>
<text x="1445.2" y="2550.5" font-size="16.67" font-family="'DejaVu Sans', 'Liberation Sans', sans-serif" text-anchor="middle">07/04 12:16:35</text>
<line x1="1615.5" y1="2528" x2="1615.5" y2="2519.67" stroke="#000" stroke-width="1.04"/>
<line x1="1615.5" y1="2306" x2="1615.5" y2="2314.33" stroke="#000" stroke-width="1.04"/>
<text x="1615.41" y="2550.5" font-size="16.67" font-family="'DejaVu Sans', 'Liberation Sans', sans-serif" text-anchor="middle">07/04 12:16:40</text>
<line x1="117" y1="2528.5" x2="125.33" y2="2528.5" stroke="#000" stroke-width="1.04"/>
<line x1="1683" y1="2528.5" x2="1674.67" y2="2528.5" stroke="#000" stroke-width="1.04"/>
<text x="108" y="2532.5" font-size="16.67" font-family="'DejaVu Sans', 'Liberation Sans', sans-serif" text-anchor="end">0.2</text>
<line x1="117" y1="2483.5" x2="125.33" y2="2483.5" stroke="#000" stroke-width="1.04"/>
<line x1="1683" y1="2483.5" x2="1674.67" y2="2483.5" stroke="#000" stroke-width="1.04"/>
<text x="108" y="2488.1" font-size="16.67" font-family="'DejaVu Sans', 'Liberation Sans', sans-serif" text-anchor="end">0.3</text>
<line x1="117" y1="2439.5" x2="125.33" y2="2439.5" stroke="#000" stroke-width="1.04"/>
<line x1="1683" y1="2439.5" x2="1674.67" y2="2439.5" stroke="#000" stroke-width="1.04"/>
<text x="108" y="2443.7" font-size="16.67" font-family="'DejaVu Sans', 'Liberation Sans', sans-serif" text-anchor="end">0.4</text>
<line x1="117" y1="2394.5" x2="125.33" y2="2394.5" stroke="#000" stroke-width="1.04"/>
<line x1="1683" y1="2394.5" x2="1674.67" y2="2394.5" stroke="#000" stroke-width="1.04"/>
<text x="108" y="2399.3" font-size="16.67" font-family="'DejaVu Sans', 'Liberation Sans', sans-serif" text-anchor="end">0.5</text>
<line x1="117" y1="2350.5" x2="125.33" y2="2350.5" stroke="#000" stroke-width="1.04"/>
<line x1="1683" y1="2350.5" x2="1674.67" y2="2350.5" stroke="#000" stroke-width="1.04"/>
<text x="108" y="2354.9" font-size="16.67" font-family="'DejaVu Sans', 'Liberation Sans', sans-serif" text-anchor="end">0.6</text>
<line x1="117" y1="2306.5" x2="125.33" y2="2306.5" stroke="#000" stroke-width="1.04"/>
<line x1="1683" y1="2306.5" x2="1674.67" y2="2306.5" stroke="#000" stroke-width="1.04"/>
<text x="108" y="2310.5" font-size="16.67" font-family="'DejaVu Sans', 'Liberation Sans', sans-serif" text-anchor="end">0.7</text>
<polyline points="117,2369.6 185.09,2363.3 253.17,2357.6 321.26,2342.8 389.35,2380.7 457.43,2382.7 525.52,2357.6 593.61,2373.9 661.7,2374.4 729.78,2386.4 797.87,2367.9 865.96,2332.6 934.04,2373.9 1002.13,2333.7 1070.22,2341.1 1138.3,2332.6 1206.39,2348.2 1274.48,2323.8 1342.57,2415.4 1410.65,2455.9 1478.74,2460.1 1546.83,2460.9 1614.91,2470.1 1683,2506" fill="none" stroke="#0000ff" stroke-width="2.08" stroke-linejoin="round" stroke-linecap="square" clip-path="url(#t3)"/>
<rect x="117" y="2306" width="1566" height="222" fill="none" stroke="#000" stroke-width="2"/>
<text x="900" y="2295.7" font-size="23.33" font-family="'DejaVu Sans', 'Liberation Sans', sans-serif" text-anchor="middle">Plasma Beta</text>
<g transform="translate(63.6 2424.5) rotate(-90)"><text x="0" y="0" font-size="16.67" font-family="'Liberation Serif', 'DejaVu Serif', serif" font-style="italic">β</text><text x="9.0" y="2.4" font-size="11.67" font-family="'Liberation Serif', 'DejaVu Serif', serif" font-style="italic">p</text></g>
<line x1="253.5" y1="2861" x2="253.5" y2="2852.67" stroke="#000" stroke-width="1.04"/>
<line x1="253.5" y1="2639" x2="253.5" y2="2647.33" stroke="#000" stroke-width="1.04"/>
<text x="253.67" y="2883.5" font-size="16.67" font-family="'DejaVu Sans', 'Liberation Sans', sans-serif" text-anchor="middle">07/04 12:16:00</text>
<line x1="423.5" y1="2861" x2="423.5" y2="2852.67" stroke="#000" stroke-width="1.04"/>
<line x1="423.5" y1="2639" x2="423.5" y2="2647.33" stroke="#000" stroke-width="1.04"/>
<text x="423.89" y="2883.5" font-size="16.67" font-family="'DejaVu Sans', 'Liberation Sans', sans-serif" text-anchor="middle">07/04 12:16:05</text>
<line x1="594.5" y1="2861" x2="594.5" y2="2852.67" stroke="#000" stroke-width="1.04"/>
<line x1="594.5" y1="2639" x2="594.5" y2="2647.33" stroke="#000" stroke-width="1.04"/>
<text x="594.11" y="2883.5" font-size="16.67" font-family="'DejaVu Sans', 'Liberation Sans', sans-serif" text-anchor="middle">07/04 12:16:10</text>
<line x1="764.5" y1="2861" x2="764.5" y2="2852.67" stroke="#000" stroke-width="1.04"/>
<line x1="764.5" y1="2639" x2="764.5" y2="2647.33" stroke="#000" stroke-width="1.04"/>
<text x="764.33" y="2883.5" font-size="16.67" font-family="'DejaVu Sans', 'Liberation Sans', sans-serif" text-anchor="middle">07/04 12:16:15</text>
<line x1="934.5" y1="2861" x2="934.5" y2="2852.67" stroke="#000" stroke-width="1.04"/>
<line x1="934.5" y1="2639" x2="934.5" y2="2647.33" stroke="#000" stroke-width="1.04"/>
<text x="934.54" y="2883.5" font-size="16.67" font-family="'DejaVu Sans', 'Liberation Sans', sans-serif" text-anchor="middle">07/04 12:16:20</text>
<line x1="1104.5" y1="2861" x2="1104.5" y2="2852.67" stroke="#000" stroke-width="1.04"/>
<line x1="1104.5" y1="2639" x2="1104.5" y2="2647.33" stroke="#000" stroke-width="1.04"/>
<text x="1104.76" y="2883.5" font-size="16.67" font-family="'DejaVu Sans', 'Liberation Sans', sans-serif" text-anchor="middle">07/04 12:16:25</text>
<line x1="1274.5" y1="2861" x2="1274.5" y2="2852.67" stroke="#000" stroke-width="1.04"/>
<line x1="1274.5" y1="2639" x2="1274.5" y2="2647.33" stroke="#000" stroke-width="1.04"/>
<text x="1274.98" y="2883.5" font-size="16.67" font-family="'DejaVu Sans', 'Liberation Sans', sans-serif" text-anchor="middle">07/04 12:16:30</text>
<line x1="1445.5" y1="2861" x2="1445.5" y2="2852.67" stroke="#000" stroke-width="1.04"/>
<line x1="1445.5" y1="2639" x2="1445.5" y2="2647.33" stroke="#000" stroke-width="1.04"/>
<text x="1445.2" y="2883.5" font-size="16.67" font-family="'DejaVu Sans', 'Liberation Sans', sans-serif" text-anchor="middle">07/04 12:16:35</text>
<line x1="1615.5" y1="2861" x2="1615.5" y2="2852.67" stroke="#000" stroke-width="1.04"/>
<line x1="1615.5" y1="2639" x2="1615.5" y2="2647.33" stroke="#000" stroke-width="1.04"/>
<text x="1615.41" y="2883.5" font-size="16.67" font-family="'DejaVu Sans', 'Liberation Sans', sans-serif" text-anchor="middle">07/04 12:16:40</text>
<line x1="117" y1="2861.5" x2="125.33" y2="2861.5" stroke="#000" stroke-width="1.04"/>
<line x1="1683" y1="2861.5" x2="1674.67" y2="2861.5" stroke="#000" stroke-width="1.04"/>
<text x="108" y="2865.5" font-size="16.67" font-family="'DejaVu Sans', 'Liberation Sans', sans-serif" text-anchor="end">65</text>
<line x1="117" y1="2816.5" x2="125.33" y2="2816.5" stroke="#000" stroke-width="1.04"/>
<line x1="1683" y1="2816.5" x2="1674.67" y2="2816.5" stroke="#000" stroke-width="1.04"/>
<text x="108" y="2821.1" font-size="16.67" font-family="'DejaVu Sans', 'Liberation Sans', sans-serif" text-anchor="end">70</text>
<line x1="117" y1="2772.5" x2="125.33" y2="2772.5" stroke="#000" stroke-width="1.04"/>
<line x1="1683" y1="2772.5" x2="1674.67" y2="2772.5" stroke="#000" stroke-width="1.04"/>
<text x="108" y="2776.7" font-size="16.67" font-family="'DejaVu Sans', 'Liberation Sans', sans-serif" text-anchor="end">75</text>
<line x1="117" y1="2727.5" x2="125.33" y2="2727.5" stroke="#000" stroke-width="1.04"/>
<line x1="1683" y1="2727.5" x2="1674.67" y2="2727.5" stroke="#000" stroke-width="1.04"/>
<text x="108" y="2732.3" font-size="16.67" font-family="'DejaVu Sans', 'Liberation Sans', sans-serif" text-anchor="end">80</text>
<line x1="117" y1="2683.5" x2="125.33" y2="2683.5" stroke="#000" stroke-width="1.04"/>
<line x1="1683" y1="2683.5" x2="1674.67" y2="2683.5" stroke="#000" stroke-width="1.04"/>
<text x="108" y="2687.9" font-size="16.67" font-family="'DejaVu Sans', 'Liberation Sans', sans-serif" text-anchor="end">85</text>
<line x1="117" y1="2639.5" x2="125.33" y2="2639.5" stroke="#000" stroke-width="1.04"/>
<line x1="1683" y1="2639.5" x2="1674.67" y2="2639.5" stroke="#000" stroke-width="1.04"/>
<text x="108" y="2643.5" font-size="16.67" font-family="'DejaVu Sans', 'Liberation Sans', sans-serif" text-anchor="end">90</text>
<polyline points="117,2664.7 185.09,2684.1 253.17,2673.3 321.26,2662.2 389.35,2682.1 457.43,2709.1 525.52,2677.5 593.61,2682.7 661.7,2684.9 729.78,2704 797.87,2702.9 865.96,2665.9 934.04,2712 1002.13,2664.7 1070.22,2685.5 1138.3,2698.3 1206.39,2696.9 1274.48,2731.9 1342.57,2765.2 1410.65,2811 1478.74,2819.7 1546.83,2805.7 1614.91,2821.1 1683,2858.5" fill="none" stroke="#0000ff" stroke-width="2.08" stroke-linejoin="round" stroke-linecap="square" clip-path="url(#t4)"/>
<rect x="117" y="2639" width="1566" height="222" fill="none" stroke="#000" stroke-width="2"/>
<text x="900" y="2628.7" font-size="23.33" font-family="'DejaVu Sans', 'Liberation Sans', sans-serif" text-anchor="middle">Proton Number Density</text>
<text x="74" y="2750" font-size="16.67" font-family="'DejaVu Sans', 'Liberation Sans', sans-serif" text-anchor="middle" transform="rotate(-90 74 2750)">Np(#/cc)</text>
<line x1="253.5" y1="3195" x2="253.5" y2="3186.67" stroke="#000" stroke-width="1.04"/>
<line x1="253.5" y1="2973" x2="253.5" y2="2981.33" stroke="#000" stroke-width="1.04"/>
<text x="253.67" y="3217.5" font-size="16.67" font-family="'DejaVu Sans', 'Liberation Sans', sans-serif" text-anchor="middle">07/04 12:16:00</text>
<line x1="423.5" y1="3195" x2="423.5" y2="3186.67" stroke="#000" stroke-width="1.04"/>
<line x1="423.5" y1="2973" x2="423.5" y2="2981.33" stroke="#000" stroke-width="1.04"/>
<text x="423.89" y="3217.5" font-size="16.67" font-family="'DejaVu Sans', 'Liberation Sans', sans-serif" text-anchor="middle">07/04 12:16:05</text>
<line x1="594.5" y1="3195" x2="594.5" y2="3186.67" stroke="#000" stroke-width="1.04"/>
<line x1="594.5" y1="2973" x2="594.5" y2="2981.33" stroke="#000" stroke-width="1.04"/>
<text x="594.11" y="3217.5" font-size="16.67" font-family="'DejaVu Sans', 'Liberation Sans', sans-serif" text-anchor="middle">07/04 12:16:10</text>
<line x1="764.5" y1="3195" x2="764.5" y2="3186.67" stroke="#000" stroke-width="1.04"/>
<line x1="764.5" y1="2973" x2="764.5" y2="2981.33" stroke="#000" stroke-width="1.04"/>
<text x="764.33" y="3217.5" font-size="16.67" font-family="'DejaVu Sans', 'Liberation Sans', sans-serif" text-anchor="middle">07/04 12:16:15</text>
<line x1="934.5" y1="3195" x2="934.5" y2="3186.67" stroke="#000" stroke-width="1.04"/>
<line x1="934.5" y1="2973" x2="934.5" y2="2981.33" stroke="#000" stroke-width="1.04"/>
<text x="934.54" y="3217.5" font-size="16.67" font-family="'DejaVu Sans', 'Liberation Sans', sans-serif" text-anchor="middle">07/04 12:16:20</text>
<line x1="1104.5" y1="3195" x2="1104.5" y2="3186.67" stroke="#000" stroke-width="1.04"/>
<line x1="1104.5" y1="2973" x2="1104.5" y2="2981.33" stroke="#000" stroke-width="1.04"/>
<text x="1104.76" y="3217.5" font-size="16.67" font-family="'DejaVu Sans', 'Liberation Sans', sans-serif" text-anchor="middle">07/04 12:16:25</text>
<line x1="1274.5" y1="3195" x2="1274.5" y2="3186.67" stroke="#000" stroke-width="1.04"/>
<line x1="1274.5" y1="2973" x2="1274.5" y2="2981.33" stroke="#000" stroke-width="1.04"/>
<text x="1274.98" y="3217.5" font-size="16.67" font-family="'DejaVu Sans', 'Liberation Sans', sans-serif" text-anchor="middle">07/04 12:16:30</text>
<line x1="1445.5" y1="3195" x2="1445.5" y2="3186.67" stroke="#000" stroke-width="1.04"/>
<line x1="1445.5" y1="2973" x2="1445.5" y2="2981.33" stroke="#000" stroke-width="1.04"/>
<text x="1445.2" y="3217.5" font-size="16.67" font-family="'DejaVu Sans', 'Liberation Sans', sans-serif" text-anchor="middle">07/04 12:16:35</text>
<line x1="1615.5" y1="3195" x2="1615.5" y2="3186.67" stroke="#000" stroke-width="1.04"/>
<line x1="1615.5" y1="2973" x2="1615.5" y2="2981.33" stroke="#000" stroke-width="1.04"/>
<text x="1615.41" y="3217.5" font-size="16.67" font-family="'DejaVu Sans', 'Liberation Sans', sans-serif" text-anchor="middle">07/04 12:16:40</text>
<line x1="117" y1="3195.5" x2="125.33" y2="3195.5" stroke="#000" stroke-width="1.04"/>
<line x1="1683" y1="3195.5" x2="1674.67" y2="3195.5" stroke="#000" stroke-width="1.04"/>
<text x="108" y="3199.5" font-size="16.67" font-family="'DejaVu Sans', 'Liberation Sans', sans-serif" text-anchor="end">0.05</text>
<line x1="117" y1="3158.5" x2="125.33" y2="3158.5" stroke="#000" stroke-width="1.04"/>
<line x1="1683" y1="3158.5" x2="1674.67" y2="3158.5" stroke="#000" stroke-width="1.04"/>
<text x="108" y="3162.5" font-size="16.67" font-family="'DejaVu Sans', 'Liberation Sans', sans-serif" text-anchor="end">0.06</text>
<line x1="117" y1="3121.5" x2="125.33" y2="3121.5" stroke="#000" stroke-width="1.04"/>
<line x1="1683" y1="3121.5" x2="1674.67" y2="3121.5" stroke="#000" stroke-width="1.04"/>
<text x="108" y="3125.5" font-size="16.67" font-family="'DejaVu Sans', 'Liberation Sans', sans-serif" text-anchor="end">0.07</text>
<line x1="117" y1="3084.5" x2="125.33" y2="3084.5" stroke="#000" stroke-width="1.04"/>
<line x1="1683" y1="3084.5" x2="1674.67" y2="3084.5" stroke="#000" stroke-width="1.04"/>
<text x="108" y="3088.5" font-size="16.67" font-family="'DejaVu Sans', 'Liberation Sans', sans-serif" text-anchor="end">0.08</text>
<line x1="117" y1="3047.5" x2="125.33" y2="3047.5" stroke="#000" stroke-width="1.04"/>
<line x1="1683" y1="3047.5" x2="1674.67" y2="3047.5" stroke="#000" stroke-width="1.04"/>
<text x="108" y="3051.5" font-size="16.67" font-family="'DejaVu Sans', 'Liberation Sans', sans-serif" text-anchor="end">0.09</text>
<line x1="117" y1="3010.5" x2="125.33" y2="3010.5" stroke="#000" stroke-width="1.04"/>
<line x1="1683" y1="3010.5" x2="1674.67" y2="3010.5" stroke="#000" stroke-width="1.04"/>
<text x="108" y="3014.5" font-size="16.67" font-family="'DejaVu Sans', 'Liberation Sans', sans-serif" text-anchor="end">0.10</text>
<line x1="117" y1="2973.5" x2="125.33" y2="2973.5" stroke="#000" stroke-width="1.04"/>
<line x1="1683" y1="2973.5" x2="1674.67" y2="2973.5" stroke="#000" stroke-width="1.04"/>
<text x="108" y="2977.5" font-size="16.67" font-family="'DejaVu Sans', 'Liberation Sans', sans-serif" text-anchor="end">0.11</text>
<polyline points="117,3096.8 185.09,3081.7 253.17,3070.9 321.26,3060.1 389.35,3100.2 457.43,3093.1 525.52,3082.3 593.61,3099.9 661.7,3096.8 729.78,3101.7 797.87,3079.2 865.96,3061.8 934.04,3094 1002.13,3069.8 1070.22,3060.4 1138.3,3049.8 1206.39,3082.3 1274.48,3006.9 1342.57,3081.2 1410.65,3108.3 1478.74,3095.3 1546.83,3081.4 1614.91,3116.6 1683,3165.3" fill="none" stroke="#0000ff" stroke-width="2.08" stroke-linejoin="round" stroke-linecap="square" clip-path="url(#t5)"/>
<rect x="123.7" y="2979.8" width="71.7" height="27.3" fill="#fff" stroke="#000" stroke-width="2"/>
<line x1="134.2" y1="2992.6" x2="156.1" y2="2992.6" stroke="#0000ff" stroke-width="2.08"/>
<text x="169.5" y="2997.9" font-size="15" font-family="'DejaVu Sans', 'Liberation Sans', sans-serif" text-anchor="start">Tp</text>
<rect x="117" y="2973" width="1566" height="222" fill="none" stroke="#000" stroke-width="2"/>
<text x="728.5" y="2961.2" font-size="23.33" font-family="'DejaVu Sans', 'Liberation Sans', sans-serif" text-anchor="start">Proton Temperature and </text>
<text x="1013.5" y="2961.2" font-size="23.33" font-family="'Liberation Serif', 'DejaVu Serif', serif" text-anchor="start" font-style="italic">T</text>
<text x="1028.5" y="2964" font-size="16.33" font-family="'Liberation Serif', 'DejaVu Serif', serif" text-anchor="start" font-style="italic">e</text>
<text x="0" y="0" font-size="23.33" font-family="'Liberation Serif', 'DejaVu Serif', serif" transform="translate(1037 2963.6) scale(1 1.25)">/</text>
<text x="1048.5" y="2961.2" font-size="23.33" font-family="'Liberation Serif', 'DejaVu Serif', serif" text-anchor="start" font-style="italic">T</text>
<text x="1062.5" y="2964" font-size="16.33" font-family="'Liberation Serif', 'DejaVu Serif', serif" text-anchor="start" font-style="italic">p</text>
<g transform="translate(52.8 3119.0) rotate(-90)"><text x="0" y="0" font-size="16.67" font-family="'DejaVu Sans', 'Liberation Sans', sans-serif">Tp</text><text x="20.8" y="0" font-size="16.67" font-family="'Liberation Serif', 'DejaVu Serif', serif">(10</text><text x="44.6" y="-5.7" font-size="11.67" font-family="'Liberation Serif', 'DejaVu Serif', serif">6</text><text x="51.6" y="0" font-size="16.67" font-family="'Liberation Serif', 'DejaVu Serif', serif">K)</text></g></svg>
</body></html>
